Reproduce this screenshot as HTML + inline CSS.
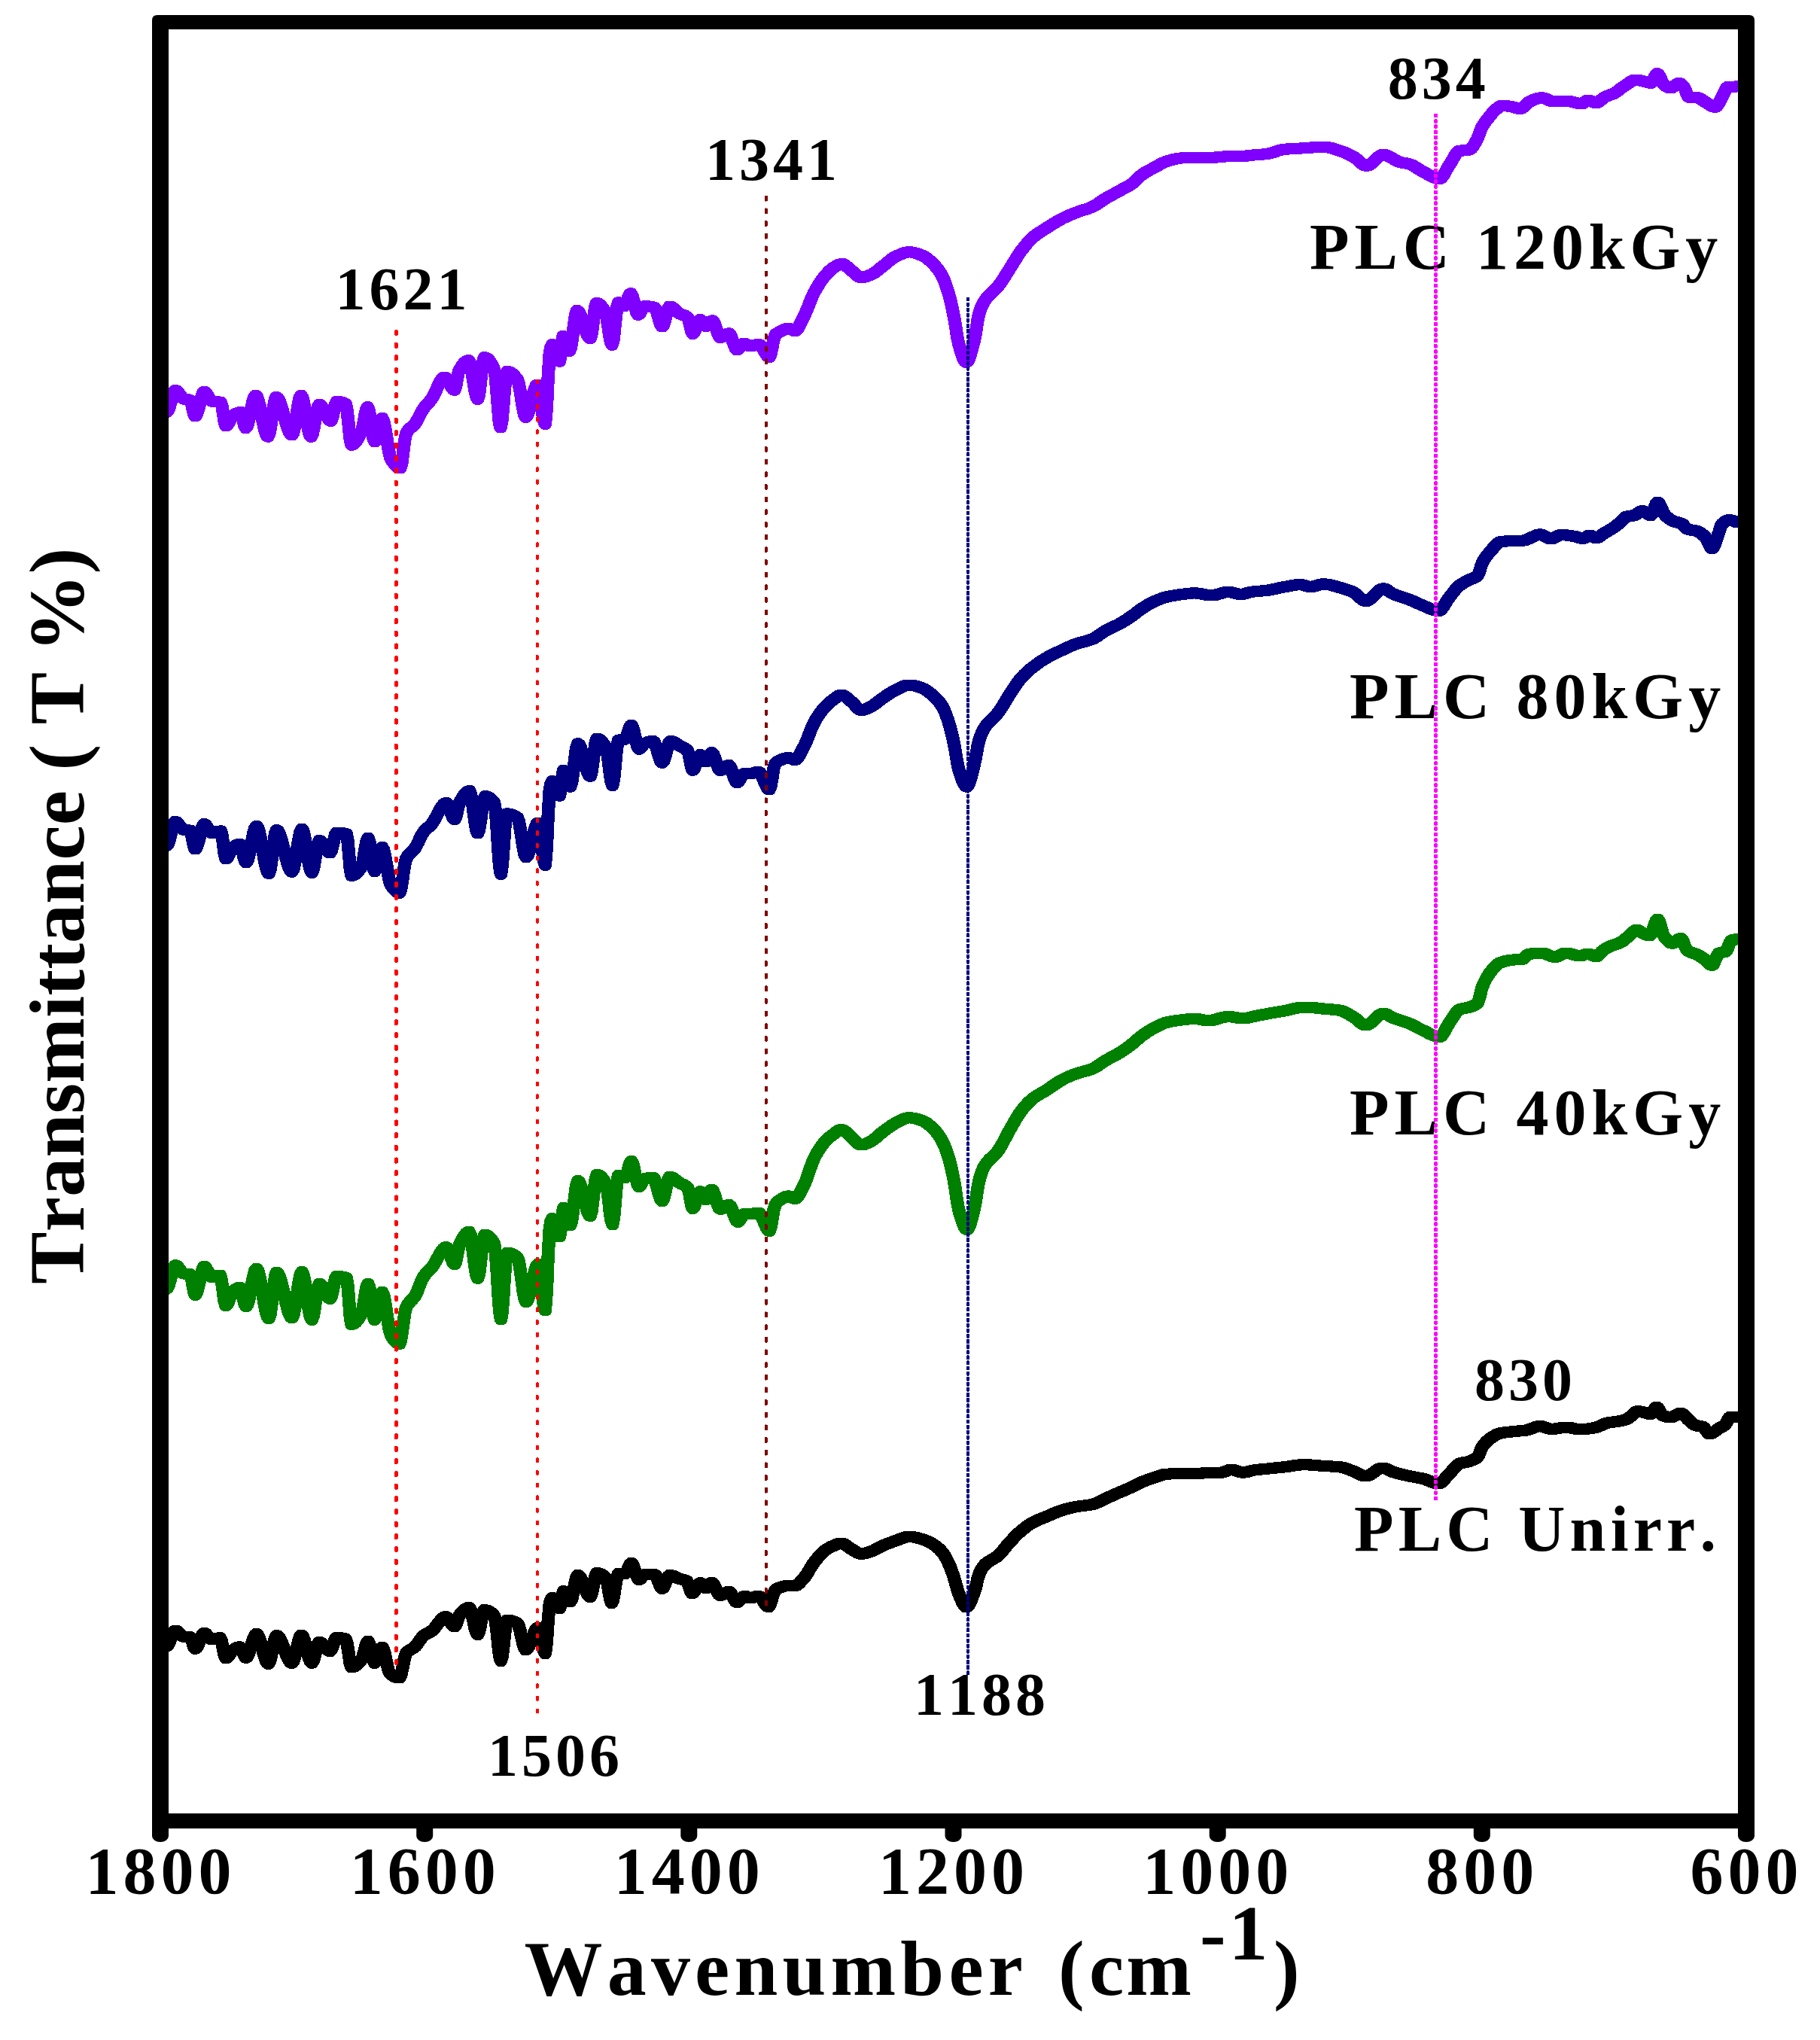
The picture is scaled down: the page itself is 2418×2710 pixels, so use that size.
<!DOCTYPE html>
<html lang="en"><head><meta charset="utf-8"><title>FTIR spectra</title>
<style>html,body{margin:0;padding:0;background:#fff}svg{display:block}</style></head>
<body>
<svg width="2418" height="2710" viewBox="0 0 2418 2710">
<rect x="0" y="0" width="2418" height="2710" fill="#ffffff"/>
<defs><clipPath id="plot"><rect x="224" y="39" width="2085" height="2370"/></clipPath></defs>
<g clip-path="url(#plot)" fill="none" stroke-linejoin="round" stroke-linecap="round" shape-rendering="crispEdges">
<path id="c0" transform="scale(0.8933,1)" d="M241.8,2188.0 L244.0,2187.5 L246.3,2187.0 L248.5,2186.3 L250.6,2184.2 L252.6,2180.3 L254.7,2175.6 L256.7,2171.0 L258.8,2167.5 L260.8,2166.1 L262.9,2166.7 L264.9,2168.1 L267.0,2170.0 L269.0,2172.0 L271.1,2173.5 L273.1,2174.2 L275.1,2174.3 L277.0,2174.4 L279.0,2174.4 L280.9,2174.5 L282.9,2174.6 L284.7,2177.1 L286.6,2182.4 L288.4,2187.7 L290.3,2190.1 L292.2,2189.0 L294.1,2186.0 L296.1,2182.0 L298.0,2177.5 L299.9,2173.5 L301.9,2170.5 L303.8,2169.4 L306.0,2170.3 L308.2,2172.4 L310.5,2175.0 L312.7,2177.1 L314.9,2178.0 L316.9,2177.8 L319.0,2177.4 L321.0,2176.9 L323.1,2176.4 L325.1,2176.0 L327.2,2175.8 L329.4,2180.0 L331.5,2189.2 L333.7,2198.4 L335.8,2202.6 L338.0,2201.7 L340.3,2199.4 L342.5,2196.5 L344.7,2193.7 L346.9,2191.8 L348.9,2190.7 L350.8,2189.6 L352.8,2188.7 L354.8,2188.1 L356.8,2187.9 L358.6,2189.4 L360.5,2192.9 L362.3,2197.2 L364.2,2200.7 L366.0,2202.2 L368.2,2200.4 L370.4,2195.9 L372.6,2189.7 L374.8,2183.0 L377.0,2176.8 L379.2,2172.3 L381.4,2170.5 L383.6,2172.2 L385.8,2176.7 L388.0,2183.1 L390.2,2190.4 L392.4,2197.7 L394.6,2204.1 L396.9,2208.6 L399.1,2210.3 L401.1,2207.5 L403.2,2200.6 L405.2,2191.5 L407.3,2182.4 L409.3,2175.5 L411.4,2172.7 L413.5,2173.6 L415.5,2175.9 L417.6,2179.4 L419.7,2183.7 L421.8,2188.5 L423.8,2193.4 L425.9,2198.2 L428.0,2202.5 L430.1,2206.0 L432.1,2208.3 L434.2,2209.2 L436.2,2207.1 L438.2,2201.8 L440.2,2194.6 L442.2,2186.7 L444.2,2179.5 L446.2,2174.2 L448.2,2172.1 L450.4,2174.2 L452.7,2179.5 L454.9,2186.7 L457.1,2194.6 L459.3,2201.8 L461.5,2207.1 L463.8,2209.2 L466.0,2206.3 L468.2,2199.4 L470.4,2191.3 L472.6,2184.4 L474.9,2181.5 L476.9,2182.0 L478.9,2183.4 L480.9,2185.3 L482.9,2187.4 L484.9,2189.6 L486.9,2191.5 L488.9,2192.9 L490.9,2193.4 L492.8,2191.5 L494.8,2187.1 L496.8,2181.7 L498.7,2177.3 L500.7,2175.4 L502.9,2175.5 L505.2,2175.6 L507.4,2175.9 L509.7,2176.3 L511.9,2176.8 L514.1,2177.5 L516.3,2183.7 L518.5,2196.4 L520.6,2209.0 L522.8,2214.7 L524.9,2214.4 L527.0,2213.7 L529.1,2212.5 L531.2,2211.0 L533.3,2209.2 L535.4,2207.1 L537.5,2204.9 L539.5,2201.0 L541.5,2194.7 L543.4,2188.0 L545.4,2182.6 L547.4,2180.4 L549.4,2183.4 L551.3,2190.5 L553.3,2199.1 L555.3,2206.2 L557.2,2209.2 L559.5,2207.0 L561.7,2201.8 L563.9,2195.7 L566.1,2190.5 L568.3,2188.3 L570.2,2190.7 L572.2,2196.7 L574.1,2204.6 L576.0,2212.7 L577.9,2219.4 L579.9,2223.0 L581.9,2224.5 L583.9,2225.8 L586.0,2226.9 L588.0,2227.8 L590.1,2228.4 L592.1,2228.9 L594.2,2229.0 L596.1,2225.9 L598.1,2218.5 L600.1,2209.4 L602.1,2201.0 L604.0,2196.2 L606.3,2194.0 L608.5,2192.5 L610.7,2191.3 L613.0,2190.2 L615.2,2189.0 L617.5,2187.4 L619.5,2185.4 L621.6,2182.8 L623.6,2180.1 L625.7,2177.4 L627.7,2175.0 L629.8,2173.1 L631.8,2171.8 L633.9,2170.6 L635.9,2169.7 L638.0,2168.7 L640.0,2167.7 L642.1,2166.5 L644.2,2164.9 L646.3,2162.8 L648.4,2160.4 L650.6,2157.9 L652.7,2155.4 L654.8,2153.0 L656.9,2150.9 L659.0,2149.2 L661.1,2148.1 L663.2,2147.7 L665.4,2148.7 L667.5,2151.1 L669.7,2154.3 L671.8,2157.5 L674.0,2159.9 L676.1,2160.9 L677.9,2158.9 L679.8,2154.3 L681.6,2149.1 L683.4,2145.6 L685.4,2143.4 L687.5,2141.3 L689.5,2139.4 L691.6,2137.9 L693.6,2136.7 L695.7,2135.9 L697.7,2135.6 L699.9,2138.3 L702.0,2144.9 L704.1,2153.5 L706.2,2162.1 L708.4,2168.7 L710.5,2171.4 L712.5,2168.0 L714.4,2159.9 L716.4,2150.2 L718.4,2142.1 L720.3,2138.7 L722.4,2138.9 L724.6,2139.4 L726.7,2140.2 L728.8,2141.4 L730.9,2142.8 L733.0,2144.6 L735.1,2146.7 L737.1,2154.2 L739.1,2169.2 L741.0,2186.4 L743.0,2200.5 L745.0,2206.4 L746.8,2200.8 L748.7,2187.4 L750.5,2171.3 L752.4,2157.9 L754.3,2152.3 L756.4,2152.4 L758.6,2152.7 L760.8,2153.1 L763.0,2153.8 L765.2,2154.6 L767.4,2155.5 L769.6,2156.6 L771.6,2160.0 L773.7,2166.7 L775.7,2175.0 L777.8,2183.1 L779.9,2189.3 L781.9,2191.7 L783.9,2190.7 L786.0,2188.0 L788.0,2184.1 L790.1,2179.4 L792.1,2174.5 L794.1,2169.8 L796.2,2165.9 L798.2,2163.2 L800.3,2162.2 L802.4,2165.8 L804.5,2174.3 L806.6,2184.4 L808.8,2192.9 L810.9,2196.5 L813.1,2181.2 L815.3,2151.4 L817.5,2131.0 L819.3,2125.2 L821.2,2122.6 L823.4,2124.1 L825.6,2127.6 L827.8,2131.7 L830.1,2135.2 L832.3,2136.7 L834.2,2130.8 L836.1,2119.7 L838.0,2113.8 L840.0,2115.2 L842.1,2118.6 L844.2,2122.7 L846.2,2126.1 L848.3,2127.5 L850.5,2123.9 L852.7,2115.2 L854.9,2104.8 L857.1,2096.1 L859.4,2092.5 L861.4,2093.5 L863.5,2096.1 L865.5,2100.0 L867.6,2104.5 L869.6,2109.3 L871.7,2113.8 L873.7,2117.7 L875.8,2120.3 L877.8,2121.3 L879.8,2118.0 L881.8,2110.2 L883.7,2100.8 L885.7,2093.0 L887.7,2089.7 L889.9,2089.9 L892.2,2090.5 L894.4,2091.4 L896.6,2092.7 L898.9,2094.3 L901.1,2096.2 L903.3,2102.5 L905.4,2113.8 L907.6,2124.7 L909.7,2129.5 L911.7,2125.5 L913.7,2115.8 L915.6,2104.4 L917.6,2094.7 L919.6,2090.7 L921.6,2090.7 L923.5,2090.7 L925.5,2090.7 L927.5,2090.7 L929.4,2090.7 L931.3,2089.2 L933.2,2085.7 L935.1,2081.5 L937.0,2078.0 L938.8,2076.5 L940.8,2078.1 L942.7,2082.2 L944.6,2087.4 L946.5,2092.6 L948.5,2096.7 L950.4,2098.3 L952.5,2097.3 L954.7,2095.1 L956.8,2092.8 L959.0,2091.8 L961.1,2091.8 L963.2,2091.8 L965.3,2091.8 L967.4,2091.8 L969.5,2091.8 L971.7,2091.8 L973.8,2091.8 L976.0,2093.7 L978.2,2098.3 L980.4,2103.8 L982.6,2108.4 L984.9,2110.3 L987.1,2108.4 L989.3,2104.0 L991.5,2098.8 L993.7,2094.4 L995.9,2092.5 L998.0,2092.7 L1000.2,2093.2 L1002.3,2093.9 L1004.4,2094.8 L1006.5,2095.7 L1008.6,2096.6 L1010.7,2097.3 L1012.9,2097.9 L1015.1,2098.3 L1017.3,2098.9 L1019.5,2099.5 L1021.7,2100.5 L1023.6,2103.6 L1025.5,2109.1 L1027.5,2114.4 L1029.4,2116.7 L1031.4,2115.7 L1033.4,2113.1 L1035.4,2109.8 L1037.4,2106.4 L1039.4,2103.8 L1041.4,2102.8 L1043.5,2103.9 L1045.7,2106.3 L1047.8,2108.7 L1050.0,2109.8 L1052.1,2108.6 L1054.2,2106.1 L1056.3,2103.6 L1058.4,2102.4 L1060.5,2103.7 L1062.7,2106.8 L1064.8,2110.9 L1067.0,2115.0 L1069.1,2118.1 L1071.3,2119.4 L1073.4,2119.0 L1075.5,2118.1 L1077.6,2116.9 L1079.8,2115.8 L1081.9,2114.9 L1084.0,2114.5 L1086.1,2115.5 L1088.1,2118.2 L1090.1,2121.6 L1092.2,2124.9 L1094.2,2127.6 L1096.2,2128.6 L1098.4,2127.7 L1100.7,2125.7 L1102.9,2123.3 L1105.1,2121.3 L1107.3,2120.4 L1109.5,2120.8 L1111.6,2121.7 L1113.8,2122.5 L1115.9,2122.9 L1118.0,2122.7 L1120.0,2122.3 L1122.1,2121.7 L1124.1,2121.0 L1126.2,2120.6 L1128.2,2120.4 L1130.4,2121.2 L1132.5,2123.2 L1134.6,2125.9 L1136.7,2129.0 L1138.8,2131.7 L1140.9,2133.7 L1143.0,2134.5 L1145.0,2132.5 L1147.0,2127.6 L1148.9,2121.5 L1150.9,2115.9 L1152.9,2112.6 L1154.7,2111.2 L1156.6,2110.1 L1158.4,2109.3 L1160.3,2108.7 L1162.3,2108.1 L1164.4,2107.6 L1166.4,2107.2 L1168.5,2106.8 L1170.5,2106.6 L1172.6,2106.5 L1174.5,2106.5 L1176.5,2106.5 L1178.5,2106.5 L1180.5,2106.5 L1182.4,2106.5 L1184.5,2106.1 L1186.5,2105.0 L1188.6,2103.4 L1190.6,2101.4 L1192.7,2099.3 L1194.7,2097.3 L1196.9,2095.0 L1199.0,2092.3 L1201.2,2089.3 L1203.3,2086.1 L1205.4,2082.9 L1207.6,2079.8 L1209.7,2076.8 L1211.9,2074.2 L1214.0,2071.8 L1216.1,2069.5 L1218.2,2067.3 L1220.3,2065.1 L1222.4,2063.2 L1224.5,2061.4 L1226.6,2059.9 L1228.7,2058.6 L1230.7,2057.4 L1232.8,2056.4 L1234.9,2055.4 L1236.9,2054.5 L1239.0,2053.7 L1241.0,2052.9 L1243.1,2052.1 L1245.1,2051.3 L1247.2,2050.7 L1249.2,2050.3 L1251.3,2050.1 L1253.4,2050.4 L1255.5,2051.2 L1257.6,2052.4 L1259.7,2053.7 L1261.8,2055.2 L1263.9,2056.5 L1266.0,2057.7 L1268.2,2058.8 L1270.3,2060.0 L1272.4,2061.2 L1274.5,2062.4 L1276.6,2063.3 L1278.7,2064.0 L1280.8,2064.2 L1282.9,2064.1 L1285.0,2063.8 L1287.2,2063.4 L1289.3,2062.9 L1291.4,2062.3 L1293.5,2061.6 L1295.6,2061.0 L1297.7,2060.3 L1299.9,2059.4 L1302.0,2058.4 L1304.2,2057.4 L1306.3,2056.3 L1308.4,2055.2 L1310.6,2054.2 L1312.7,2053.3 L1314.9,2052.5 L1317.1,2051.7 L1319.3,2050.9 L1321.5,2050.2 L1323.7,2049.4 L1325.9,2048.7 L1328.0,2048.0 L1330.2,2047.4 L1332.4,2046.7 L1334.6,2046.0 L1336.8,2045.2 L1339.0,2044.4 L1341.2,2043.6 L1343.4,2042.9 L1345.6,2042.3 L1347.7,2041.8 L1349.9,2041.4 L1352.1,2041.3 L1354.3,2041.4 L1356.5,2041.6 L1358.7,2041.9 L1360.9,2042.2 L1363.1,2042.7 L1365.3,2043.2 L1367.5,2043.8 L1369.6,2044.3 L1371.8,2044.9 L1374.0,2045.5 L1376.1,2046.2 L1378.3,2047.0 L1380.4,2047.9 L1382.6,2048.9 L1384.8,2049.9 L1386.9,2051.0 L1389.1,2052.2 L1391.1,2053.4 L1393.2,2054.8 L1395.2,2056.4 L1397.3,2058.1 L1399.3,2060.0 L1401.4,2062.1 L1403.4,2064.5 L1405.3,2067.2 L1407.3,2070.4 L1409.3,2073.8 L1411.2,2077.5 L1413.1,2081.3 L1414.9,2085.6 L1416.8,2090.2 L1418.6,2095.1 L1420.4,2100.5 L1422.3,2106.5 L1424.1,2112.3 L1425.9,2117.0 L1427.8,2121.1 L1429.7,2125.2 L1431.6,2129.0 L1433.5,2132.1 L1435.4,2134.2 L1437.3,2135.0 L1439.3,2134.1 L1441.2,2131.8 L1443.2,2128.4 L1445.1,2124.2 L1447.1,2119.6 L1449.1,2115.0 L1450.9,2109.6 L1452.7,2102.8 L1454.5,2096.1 L1456.3,2091.0 L1458.3,2087.2 L1460.3,2083.9 L1462.2,2081.1 L1464.2,2079.0 L1466.2,2077.2 L1468.3,2075.8 L1470.3,2074.5 L1472.3,2073.4 L1474.4,2072.3 L1476.4,2071.3 L1478.4,2070.3 L1480.5,2069.2 L1482.5,2068.0 L1484.6,2066.5 L1486.7,2064.7 L1488.8,2062.7 L1491.0,2060.4 L1493.1,2058.1 L1495.3,2055.7 L1497.4,2053.3 L1499.5,2051.0 L1501.7,2048.9 L1503.8,2046.8 L1506.0,2044.8 L1508.1,2042.7 L1510.3,2040.7 L1512.5,2038.8 L1514.6,2036.9 L1516.8,2035.2 L1518.9,2033.5 L1521.1,2031.9 L1523.2,2030.4 L1525.4,2028.9 L1527.5,2027.4 L1529.7,2026.1 L1531.8,2024.8 L1534.0,2023.6 L1536.2,2022.5 L1538.3,2021.5 L1540.5,2020.5 L1542.7,2019.6 L1544.9,2018.8 L1547.1,2018.0 L1549.3,2017.2 L1551.5,2016.4 L1553.7,2015.6 L1555.9,2014.8 L1558.1,2014.0 L1560.3,2013.1 L1562.6,2012.2 L1564.8,2011.4 L1567.1,2010.5 L1569.3,2009.7 L1571.5,2008.9 L1573.8,2008.1 L1576.0,2007.3 L1578.2,2006.6 L1580.5,2006.0 L1582.7,2005.4 L1584.9,2004.8 L1587.1,2004.3 L1589.2,2003.8 L1591.4,2003.3 L1593.6,2002.8 L1595.8,2002.4 L1598.0,2002.0 L1600.2,2001.6 L1602.4,2001.3 L1604.6,2001.0 L1606.9,2000.7 L1609.1,2000.4 L1611.3,2000.2 L1613.6,2000.0 L1615.8,1999.7 L1618.0,1999.5 L1620.2,1999.2 L1622.5,1998.8 L1624.7,1998.4 L1626.9,1997.9 L1629.1,1997.2 L1631.3,1996.4 L1633.5,1995.5 L1635.6,1994.5 L1637.8,1993.6 L1640.0,1992.6 L1642.2,1991.6 L1644.4,1990.7 L1646.6,1989.8 L1648.8,1988.9 L1651.1,1988.1 L1653.3,1987.2 L1655.5,1986.3 L1657.7,1985.4 L1659.9,1984.5 L1662.1,1983.6 L1664.4,1982.8 L1666.6,1981.9 L1668.7,1981.1 L1670.9,1980.3 L1673.0,1979.5 L1675.2,1978.7 L1677.3,1977.8 L1679.5,1977.0 L1681.7,1976.2 L1683.8,1975.3 L1685.9,1974.4 L1688.0,1973.4 L1690.1,1972.4 L1692.2,1971.4 L1694.4,1970.5 L1696.5,1969.5 L1698.6,1968.7 L1700.7,1967.9 L1702.9,1967.2 L1705.0,1966.5 L1707.1,1965.8 L1709.3,1965.1 L1711.4,1964.5 L1713.6,1963.8 L1715.7,1963.2 L1717.9,1962.5 L1720.1,1961.8 L1722.3,1961.1 L1724.5,1960.4 L1726.7,1959.7 L1728.8,1959.1 L1731.0,1958.6 L1733.2,1958.3 L1735.4,1958.1 L1737.6,1958.0 L1739.8,1958.0 L1742.1,1957.9 L1744.3,1957.9 L1746.5,1957.9 L1748.7,1957.8 L1750.9,1957.8 L1753.1,1957.8 L1755.4,1957.7 L1757.6,1957.7 L1759.8,1957.7 L1762.0,1957.6 L1764.1,1957.6 L1766.3,1957.5 L1768.5,1957.5 L1770.7,1957.4 L1772.9,1957.4 L1775.1,1957.4 L1777.3,1957.3 L1779.5,1957.2 L1781.8,1957.2 L1784.0,1957.1 L1786.2,1957.1 L1788.5,1957.0 L1790.7,1956.9 L1792.9,1956.9 L1795.2,1956.8 L1797.4,1956.7 L1799.7,1956.7 L1801.9,1956.6 L1804.0,1956.5 L1806.1,1956.5 L1808.2,1956.5 L1810.3,1956.4 L1812.5,1956.4 L1814.6,1956.3 L1816.7,1956.2 L1818.8,1955.9 L1820.9,1955.3 L1823.0,1954.6 L1825.1,1953.8 L1827.2,1953.0 L1829.2,1952.5 L1831.3,1952.3 L1833.5,1952.5 L1835.7,1952.9 L1837.8,1953.5 L1840.0,1954.2 L1842.1,1954.9 L1844.3,1955.5 L1846.4,1955.9 L1848.6,1956.1 L1850.7,1956.0 L1852.9,1955.7 L1855.0,1955.3 L1857.2,1954.8 L1859.4,1954.2 L1861.5,1953.7 L1863.7,1953.2 L1865.8,1952.9 L1868.0,1952.6 L1870.1,1952.4 L1872.2,1952.2 L1874.4,1952.0 L1876.5,1951.8 L1878.7,1951.6 L1880.8,1951.5 L1882.9,1951.3 L1885.1,1951.1 L1887.3,1950.9 L1889.5,1950.7 L1891.8,1950.5 L1894.0,1950.3 L1896.2,1950.1 L1898.4,1949.9 L1900.7,1949.7 L1902.9,1949.5 L1905.1,1949.3 L1907.4,1949.1 L1909.6,1948.9 L1911.7,1948.7 L1913.8,1948.4 L1915.9,1948.1 L1918.0,1947.8 L1920.1,1947.5 L1922.3,1947.2 L1924.4,1946.9 L1926.5,1946.7 L1928.6,1946.4 L1930.7,1946.2 L1932.8,1946.0 L1934.9,1945.8 L1937.0,1945.7 L1939.1,1945.7 L1941.3,1945.7 L1943.4,1945.8 L1945.5,1945.8 L1947.6,1945.9 L1949.7,1946.1 L1951.8,1946.2 L1953.9,1946.3 L1956.0,1946.5 L1958.1,1946.6 L1960.3,1946.8 L1962.4,1947.0 L1964.5,1947.1 L1966.6,1947.3 L1968.7,1947.4 L1970.9,1947.5 L1973.2,1947.6 L1975.4,1947.7 L1977.6,1947.9 L1979.9,1948.0 L1982.1,1948.1 L1984.4,1948.2 L1986.6,1948.3 L1988.8,1948.5 L1991.1,1948.7 L1993.3,1948.9 L1995.5,1949.2 L1997.7,1949.6 L1999.9,1950.2 L2002.0,1950.8 L2004.2,1951.5 L2006.4,1952.2 L2008.6,1953.0 L2010.7,1953.7 L2012.9,1954.4 L2015.0,1955.1 L2017.0,1956.0 L2019.1,1956.9 L2021.1,1957.9 L2023.2,1958.8 L2025.2,1959.6 L2027.3,1960.3 L2029.3,1960.7 L2031.4,1960.9 L2033.6,1960.6 L2035.9,1960.0 L2038.1,1958.9 L2040.3,1957.7 L2042.6,1956.2 L2044.8,1954.8 L2047.1,1953.3 L2049.3,1952.1 L2051.5,1951.0 L2053.8,1950.4 L2056.0,1950.1 L2058.0,1950.3 L2060.0,1950.7 L2062.0,1951.4 L2064.0,1952.3 L2066.0,1953.2 L2068.0,1954.0 L2070.0,1954.9 L2072.0,1955.5 L2074.3,1956.1 L2076.5,1956.7 L2078.7,1957.2 L2081.0,1957.7 L2083.2,1958.3 L2085.4,1958.7 L2087.7,1959.2 L2089.9,1959.7 L2092.2,1960.1 L2094.4,1960.6 L2096.6,1961.0 L2098.8,1961.4 L2101.0,1961.8 L2103.2,1962.1 L2105.3,1962.4 L2107.5,1962.8 L2109.7,1963.1 L2111.9,1963.5 L2114.1,1963.9 L2116.2,1964.3 L2118.4,1964.8 L2120.5,1965.5 L2122.6,1966.2 L2124.7,1967.0 L2126.9,1967.8 L2129.0,1968.5 L2131.1,1969.3 L2133.2,1969.9 L2135.4,1970.4 L2137.5,1970.7 L2139.6,1970.8 L2141.6,1970.4 L2143.6,1969.4 L2145.6,1967.9 L2147.6,1966.0 L2149.6,1963.8 L2151.6,1961.7 L2153.6,1959.6 L2155.6,1957.7 L2157.7,1955.7 L2159.9,1953.5 L2162.0,1951.3 L2164.1,1949.1 L2166.2,1947.2 L2168.3,1945.6 L2170.4,1944.5 L2172.5,1943.8 L2174.6,1943.3 L2176.7,1942.9 L2178.9,1942.6 L2181.0,1942.2 L2183.1,1941.8 L2185.2,1941.2 L2187.2,1940.6 L2189.3,1939.9 L2191.3,1939.2 L2193.4,1938.2 L2195.4,1937.1 L2197.5,1935.7 L2199.3,1933.1 L2201.2,1929.0 L2203.0,1924.7 L2204.9,1921.4 L2206.9,1919.0 L2209.0,1916.8 L2211.0,1914.9 L2213.1,1913.2 L2215.1,1911.7 L2217.2,1910.4 L2219.3,1909.2 L2221.4,1908.0 L2223.5,1906.8 L2225.6,1905.8 L2227.7,1905.0 L2229.8,1904.3 L2231.9,1903.8 L2234.1,1903.4 L2236.3,1903.1 L2238.4,1902.8 L2240.6,1902.6 L2242.8,1902.4 L2245.0,1902.2 L2247.2,1902.0 L2249.4,1901.8 L2251.6,1901.6 L2253.8,1901.4 L2255.8,1901.2 L2257.8,1901.1 L2259.7,1900.9 L2261.7,1900.8 L2263.7,1900.6 L2265.6,1900.4 L2267.6,1900.2 L2269.6,1900.0 L2271.7,1899.6 L2273.8,1899.1 L2275.9,1898.4 L2278.0,1897.7 L2280.1,1897.0 L2282.1,1896.2 L2284.2,1895.6 L2286.3,1895.1 L2288.4,1894.7 L2290.5,1894.6 L2292.7,1894.8 L2294.8,1895.2 L2296.9,1895.8 L2299.1,1896.5 L2301.2,1897.2 L2303.4,1897.8 L2305.5,1898.2 L2307.6,1898.4 L2309.9,1898.3 L2312.1,1898.2 L2314.3,1897.9 L2316.5,1897.6 L2318.7,1897.2 L2320.9,1896.9 L2323.2,1896.6 L2325.4,1896.3 L2327.6,1896.2 L2329.8,1896.1 L2332.0,1896.2 L2334.2,1896.4 L2336.4,1896.8 L2338.6,1897.2 L2340.8,1897.7 L2342.9,1898.1 L2345.1,1898.5 L2347.3,1898.7 L2349.5,1898.8 L2351.7,1898.8 L2353.9,1898.7 L2356.2,1898.6 L2358.4,1898.4 L2360.6,1898.2 L2362.8,1897.9 L2365.0,1897.6 L2367.2,1897.3 L2369.5,1897.0 L2371.7,1896.7 L2373.9,1896.3 L2376.1,1895.6 L2378.2,1894.8 L2380.4,1893.9 L2382.6,1893.0 L2384.8,1892.1 L2387.0,1891.3 L2389.2,1890.6 L2391.4,1890.1 L2393.5,1889.7 L2395.7,1889.5 L2397.8,1889.2 L2399.9,1889.0 L2402.1,1888.8 L2404.2,1888.5 L2406.4,1888.2 L2408.5,1887.9 L2410.6,1887.5 L2412.6,1887.1 L2414.7,1886.6 L2416.7,1886.0 L2418.8,1885.3 L2420.8,1884.6 L2422.9,1883.5 L2425.0,1881.8 L2427.2,1880.0 L2429.3,1878.1 L2431.4,1876.4 L2433.5,1875.2 L2435.6,1874.8 L2437.6,1874.9 L2439.7,1875.1 L2441.8,1875.5 L2443.8,1876.0 L2445.9,1876.4 L2447.9,1876.9 L2450.0,1877.5 L2452.0,1878.3 L2454.1,1878.6 L2456.0,1877.6 L2458.0,1875.3 L2460.0,1872.6 L2461.9,1870.3 L2463.9,1869.3 L2466.1,1870.9 L2468.2,1874.3 L2470.4,1878.0 L2472.5,1880.2 L2474.6,1880.9 L2476.6,1881.6 L2478.7,1882.1 L2480.7,1882.5 L2482.8,1882.7 L2484.9,1882.8 L2487.0,1882.5 L2489.1,1881.7 L2491.2,1880.7 L2493.3,1879.6 L2495.4,1878.6 L2497.5,1877.8 L2499.6,1877.5 L2501.7,1878.0 L2503.7,1879.3 L2505.8,1881.1 L2507.8,1883.1 L2509.9,1885.1 L2511.9,1886.8 L2513.9,1888.3 L2515.8,1889.8 L2517.8,1891.3 L2519.7,1892.5 L2521.7,1893.4 L2523.9,1894.0 L2526.1,1894.3 L2528.3,1894.6 L2530.5,1895.0 L2532.8,1895.6 L2534.7,1897.0 L2536.7,1899.3 L2538.7,1901.8 L2540.6,1903.9 L2542.6,1904.7 L2544.5,1904.4 L2546.5,1903.8 L2548.4,1902.7 L2550.4,1901.5 L2552.3,1900.2 L2554.2,1898.9 L2556.2,1897.8 L2558.1,1896.8 L2560.1,1895.9 L2562.1,1894.9 L2564.0,1893.7 L2566.0,1892.3 L2567.9,1889.9 L2569.7,1886.6 L2571.5,1883.7 L2573.4,1882.4 L2575.4,1882.4 L2577.5,1882.4 L2579.6,1882.4 L2581.6,1882.4 L2583.7,1882.4 L2585.7,1882.4 L2587.6,1882.4 L2589.6,1882.3 L2591.5,1882.3 L2593.4,1882.2 L2595.4,1882.1 L2597.3,1882.1 L2599.3,1882.0" stroke="#000000" stroke-width="15"/>
<use href="#c0" x="-2.0"/><use href="#c0" x="-1.0"/><use href="#c0" x="1.0"/><use href="#c0" x="2.0"/>
<path id="c1" transform="scale(0.8933,1)" d="M241.8,1714.0 L244.0,1713.3 L246.3,1712.6 L248.5,1711.5 L250.6,1708.4 L252.6,1702.5 L254.7,1695.3 L256.7,1688.3 L258.8,1683.0 L260.8,1680.9 L262.9,1681.7 L264.9,1683.5 L267.0,1686.1 L269.0,1688.6 L271.1,1690.7 L273.1,1691.8 L275.1,1692.1 L277.0,1692.2 L279.0,1692.4 L280.9,1692.6 L282.9,1692.9 L284.7,1697.4 L286.6,1706.8 L288.4,1716.0 L290.3,1720.2 L292.2,1718.1 L294.1,1712.7 L296.1,1705.3 L298.0,1697.3 L299.9,1689.9 L301.9,1684.5 L303.8,1682.4 L306.0,1683.9 L308.2,1687.4 L310.5,1691.5 L312.7,1695.0 L314.9,1696.5 L316.9,1696.3 L319.0,1695.9 L321.0,1695.3 L323.1,1694.7 L325.1,1694.3 L327.2,1694.1 L329.4,1700.4 L331.5,1714.3 L333.7,1728.2 L335.8,1734.5 L338.0,1732.7 L340.3,1728.3 L342.5,1722.8 L344.7,1717.8 L346.9,1714.8 L348.9,1713.5 L350.8,1712.3 L352.8,1711.4 L354.8,1710.7 L356.8,1710.5 L358.6,1713.1 L360.5,1719.3 L362.3,1726.8 L364.2,1733.0 L366.0,1735.6 L368.2,1732.8 L370.4,1725.6 L372.6,1715.8 L374.8,1705.1 L377.0,1695.3 L379.2,1688.1 L381.4,1685.3 L383.4,1687.6 L385.5,1693.6 L387.5,1702.4 L389.5,1712.9 L391.6,1723.8 L393.6,1734.3 L395.7,1743.1 L397.7,1749.1 L399.7,1751.4 L401.7,1746.9 L403.6,1735.6 L405.6,1720.8 L407.5,1706.1 L409.4,1694.8 L411.4,1690.3 L413.5,1691.7 L415.5,1695.6 L417.6,1701.3 L419.7,1708.4 L421.8,1716.3 L423.8,1724.6 L425.9,1732.5 L428.0,1739.6 L430.1,1745.3 L432.1,1749.2 L434.2,1750.6 L436.3,1747.2 L438.4,1738.5 L440.5,1726.6 L442.7,1713.7 L444.8,1701.8 L446.9,1693.1 L449.0,1689.7 L451.1,1693.2 L453.2,1702.3 L455.3,1714.7 L457.4,1728.2 L459.5,1740.6 L461.7,1749.7 L463.8,1753.2 L466.0,1748.2 L468.2,1736.4 L470.4,1722.3 L472.6,1710.5 L474.9,1705.5 L476.9,1706.4 L478.9,1708.6 L480.9,1711.8 L482.9,1715.4 L484.9,1719.0 L486.9,1722.2 L488.9,1724.4 L490.9,1725.3 L492.8,1722.2 L494.8,1714.8 L496.8,1706.1 L498.7,1698.7 L500.7,1695.6 L502.8,1695.6 L504.9,1695.7 L507.0,1695.9 L509.1,1696.2 L511.2,1696.6 L513.3,1697.1 L515.4,1697.7 L517.2,1707.7 L519.1,1728.8 L520.9,1749.9 L522.8,1759.4 L524.9,1759.0 L527.0,1758.0 L529.1,1756.4 L531.2,1754.3 L533.3,1751.8 L535.4,1748.8 L537.5,1745.6 L539.5,1739.4 L541.5,1729.2 L543.4,1718.1 L545.4,1709.2 L547.4,1705.5 L549.4,1710.5 L551.3,1722.3 L553.3,1736.4 L555.3,1748.2 L557.2,1753.2 L559.5,1749.4 L561.7,1740.3 L563.9,1729.4 L566.1,1720.3 L568.3,1716.5 L570.5,1720.3 L572.7,1730.0 L574.9,1742.8 L577.1,1756.2 L579.3,1767.5 L581.5,1774.0 L583.6,1777.0 L585.7,1779.6 L587.9,1781.8 L590.0,1783.6 L592.1,1784.7 L594.2,1785.1 L596.1,1780.7 L598.1,1769.9 L600.1,1756.5 L602.1,1744.2 L604.0,1736.8 L606.3,1733.1 L608.5,1730.5 L610.7,1728.4 L613.0,1726.4 L615.2,1724.2 L617.5,1721.4 L619.5,1717.8 L621.6,1713.4 L623.6,1708.6 L625.7,1703.8 L627.7,1699.5 L629.8,1696.2 L631.8,1693.7 L633.9,1691.6 L635.9,1689.8 L638.0,1688.0 L640.0,1686.2 L642.1,1684.1 L644.3,1681.4 L646.4,1678.2 L648.6,1674.7 L650.8,1671.1 L652.9,1667.5 L655.1,1664.1 L657.3,1661.2 L659.5,1658.9 L661.6,1657.4 L663.8,1656.8 L665.9,1658.5 L667.9,1662.7 L670.0,1668.2 L672.0,1673.6 L674.1,1677.8 L676.1,1679.5 L677.9,1676.1 L679.8,1668.4 L681.6,1659.8 L683.4,1653.8 L685.4,1650.0 L687.5,1646.4 L689.5,1643.1 L691.6,1640.4 L693.6,1638.3 L695.7,1636.9 L697.7,1636.4 L699.9,1641.0 L702.0,1652.4 L704.1,1667.2 L706.2,1682.1 L708.4,1693.5 L710.5,1698.1 L712.6,1692.1 L714.6,1677.8 L716.7,1660.6 L718.8,1646.3 L720.9,1640.3 L722.9,1640.6 L725.0,1641.4 L727.0,1642.7 L729.0,1644.5 L731.1,1646.7 L733.1,1649.5 L735.1,1652.7 L737.1,1665.2 L739.1,1690.3 L741.0,1719.0 L743.0,1742.7 L745.0,1752.6 L746.8,1743.4 L748.7,1721.5 L750.5,1695.4 L752.4,1673.5 L754.3,1664.3 L756.4,1664.4 L758.6,1664.9 L760.8,1665.6 L763.0,1666.5 L765.2,1667.7 L767.4,1669.2 L769.6,1670.8 L771.7,1676.3 L773.8,1687.6 L776.0,1701.5 L778.1,1715.1 L780.2,1725.5 L782.4,1729.6 L784.6,1727.4 L786.8,1721.7 L789.1,1713.7 L791.3,1704.4 L793.5,1695.1 L795.8,1687.1 L798.0,1681.4 L800.3,1679.2 L802.4,1685.6 L804.5,1700.8 L806.6,1719.0 L808.8,1734.2 L810.9,1740.6 L813.1,1715.2 L815.3,1665.6 L817.5,1632.0 L819.3,1622.8 L821.2,1618.8 L823.4,1621.3 L825.6,1627.2 L827.8,1634.4 L830.1,1640.3 L832.3,1642.8 L834.2,1632.9 L836.1,1614.4 L838.0,1604.5 L840.0,1606.9 L842.1,1612.6 L844.2,1619.3 L846.2,1625.0 L848.3,1627.4 L850.5,1621.3 L852.7,1606.7 L854.9,1589.4 L857.1,1574.8 L859.4,1568.7 L861.4,1570.3 L863.5,1574.6 L865.5,1580.8 L867.6,1588.1 L869.6,1595.9 L871.7,1603.2 L873.7,1609.4 L875.8,1613.7 L877.8,1615.3 L879.8,1609.6 L881.8,1596.0 L883.7,1579.8 L885.7,1566.2 L887.7,1560.5 L889.9,1560.9 L892.2,1562.0 L894.4,1563.8 L896.6,1566.2 L898.9,1569.1 L901.1,1572.5 L903.1,1580.1 L905.1,1593.8 L907.0,1609.1 L909.0,1621.6 L911.0,1626.7 L913.1,1616.5 L915.3,1594.2 L917.4,1571.8 L919.6,1561.6 L921.6,1561.9 L923.5,1562.7 L925.5,1563.6 L927.5,1564.4 L929.4,1564.7 L931.3,1562.4 L933.2,1556.9 L935.1,1550.3 L937.0,1544.8 L938.8,1542.5 L940.8,1545.0 L942.7,1551.3 L944.6,1559.5 L946.5,1567.6 L948.5,1573.9 L950.4,1576.4 L952.5,1574.9 L954.7,1571.4 L956.8,1567.8 L959.0,1565.9 L961.0,1565.4 L963.1,1565.0 L965.1,1564.7 L967.2,1564.5 L969.3,1564.3 L971.3,1564.3 L973.2,1566.0 L975.2,1570.5 L977.1,1576.6 L979.0,1583.2 L981.0,1589.3 L982.9,1593.8 L984.9,1595.5 L987.1,1592.2 L989.3,1584.2 L991.5,1574.7 L993.7,1566.7 L995.9,1563.4 L998.0,1563.7 L1000.2,1564.5 L1002.3,1565.7 L1004.4,1567.1 L1006.5,1568.6 L1008.6,1570.1 L1010.7,1571.4 L1012.7,1572.4 L1014.8,1573.2 L1016.8,1574.0 L1018.8,1575.0 L1020.9,1576.2 L1022.9,1578.0 L1024.8,1583.3 L1026.6,1592.6 L1028.5,1601.5 L1030.3,1605.4 L1032.5,1603.0 L1034.7,1597.4 L1036.9,1590.8 L1039.2,1585.2 L1041.4,1582.8 L1043.5,1584.5 L1045.7,1588.2 L1047.8,1591.9 L1050.0,1593.6 L1052.1,1591.5 L1054.2,1586.9 L1056.3,1582.4 L1058.4,1580.3 L1060.5,1582.2 L1062.7,1587.0 L1064.8,1593.2 L1067.0,1599.5 L1069.1,1604.3 L1071.3,1606.2 L1073.4,1605.8 L1075.5,1604.7 L1077.6,1603.4 L1079.8,1602.1 L1081.9,1601.0 L1084.0,1600.6 L1086.3,1602.3 L1088.5,1606.4 L1090.7,1611.8 L1093.0,1617.3 L1095.2,1621.4 L1097.5,1623.1 L1099.4,1622.0 L1101.4,1619.4 L1103.4,1616.3 L1105.3,1613.7 L1107.3,1612.6 L1109.5,1612.6 L1111.6,1612.6 L1113.8,1612.6 L1115.9,1612.6 L1118.0,1612.5 L1120.0,1612.2 L1122.1,1611.9 L1124.1,1611.6 L1126.2,1611.3 L1128.2,1611.2 L1130.2,1612.2 L1132.2,1615.0 L1134.2,1618.8 L1136.3,1623.2 L1138.3,1627.6 L1140.3,1631.5 L1142.3,1634.2 L1144.3,1635.2 L1146.4,1630.4 L1148.6,1619.4 L1150.7,1607.6 L1152.9,1600.5 L1154.7,1598.2 L1156.6,1596.5 L1158.4,1595.1 L1160.3,1594.0 L1162.3,1592.8 L1164.4,1591.7 L1166.4,1590.6 L1168.5,1589.8 L1170.5,1589.2 L1172.6,1589.0 L1174.5,1589.3 L1176.5,1590.2 L1178.5,1591.1 L1180.5,1592.0 L1182.4,1592.3 L1184.5,1591.6 L1186.5,1589.7 L1188.6,1586.9 L1190.6,1583.5 L1192.7,1579.9 L1194.7,1576.4 L1196.9,1572.4 L1199.0,1567.6 L1201.2,1562.3 L1203.3,1556.7 L1205.4,1551.1 L1207.6,1545.7 L1209.7,1540.9 L1211.9,1536.8 L1214.0,1533.3 L1216.1,1530.1 L1218.2,1527.1 L1220.3,1524.2 L1222.4,1521.6 L1224.5,1519.2 L1226.6,1517.0 L1228.7,1515.0 L1230.7,1513.2 L1232.8,1511.5 L1234.9,1509.9 L1236.9,1508.5 L1239.0,1507.1 L1241.0,1505.7 L1243.1,1504.3 L1245.1,1502.9 L1247.2,1501.7 L1249.2,1500.9 L1251.3,1500.6 L1253.4,1501.0 L1255.5,1502.0 L1257.6,1503.4 L1259.7,1505.1 L1261.8,1507.0 L1263.9,1508.8 L1266.0,1510.4 L1268.2,1512.0 L1270.3,1514.0 L1272.4,1516.0 L1274.5,1517.8 L1276.6,1519.4 L1278.7,1520.5 L1280.8,1520.9 L1282.9,1520.7 L1285.0,1520.3 L1287.2,1519.6 L1289.3,1518.8 L1291.4,1517.9 L1293.5,1516.9 L1295.6,1515.9 L1297.7,1514.8 L1299.9,1513.4 L1302.0,1511.9 L1304.2,1510.3 L1306.3,1508.6 L1308.4,1506.9 L1310.6,1505.3 L1312.7,1503.8 L1314.9,1502.4 L1317.1,1500.9 L1319.3,1499.4 L1321.5,1498.0 L1323.7,1496.6 L1325.9,1495.3 L1328.0,1494.0 L1330.2,1492.8 L1332.4,1491.8 L1334.6,1490.8 L1336.8,1489.7 L1339.0,1488.7 L1341.2,1487.7 L1343.4,1486.7 L1345.6,1486.0 L1347.7,1485.3 L1349.9,1484.9 L1352.1,1484.8 L1354.3,1484.9 L1356.5,1485.1 L1358.7,1485.4 L1360.9,1485.8 L1363.1,1486.3 L1365.3,1486.9 L1367.5,1487.5 L1369.6,1488.2 L1371.8,1488.9 L1374.0,1489.7 L1376.1,1490.8 L1378.3,1492.0 L1380.4,1493.5 L1382.6,1495.1 L1384.8,1496.8 L1386.9,1498.6 L1389.1,1500.5 L1391.1,1502.4 L1393.2,1504.6 L1395.2,1507.0 L1397.3,1509.7 L1399.3,1512.7 L1401.4,1515.9 L1403.4,1519.5 L1405.3,1523.6 L1407.3,1528.2 L1409.3,1533.4 L1411.2,1539.0 L1413.1,1545.0 L1414.9,1551.9 L1416.8,1559.5 L1418.6,1567.6 L1420.4,1577.3 L1422.3,1588.6 L1424.1,1599.2 L1425.9,1607.1 L1427.9,1613.6 L1430.0,1619.7 L1432.1,1625.2 L1434.1,1629.5 L1436.2,1632.4 L1438.2,1633.4 L1440.4,1631.7 L1442.6,1627.1 L1444.7,1620.5 L1446.9,1612.9 L1449.1,1605.0 L1450.9,1596.7 L1452.7,1586.3 L1454.5,1576.0 L1456.3,1568.0 L1458.3,1562.0 L1460.3,1556.7 L1462.2,1552.4 L1464.2,1549.0 L1466.2,1546.2 L1468.3,1543.7 L1470.3,1541.7 L1472.3,1539.8 L1474.4,1538.1 L1476.4,1536.5 L1478.4,1534.8 L1480.5,1533.0 L1482.5,1530.9 L1484.6,1528.6 L1486.7,1525.7 L1488.8,1522.5 L1491.0,1519.1 L1493.1,1515.5 L1495.3,1511.8 L1497.4,1508.1 L1499.5,1504.5 L1501.7,1501.1 L1503.8,1497.8 L1506.0,1494.4 L1508.1,1491.0 L1510.3,1487.6 L1512.5,1484.4 L1514.6,1481.3 L1516.8,1478.4 L1518.9,1475.8 L1521.1,1473.3 L1523.2,1471.0 L1525.4,1468.7 L1527.5,1466.6 L1529.7,1464.5 L1531.8,1462.7 L1534.0,1460.9 L1536.2,1459.3 L1538.3,1457.8 L1540.5,1456.5 L1542.7,1455.2 L1544.9,1454.1 L1547.1,1453.0 L1549.3,1451.8 L1551.5,1450.7 L1553.7,1449.6 L1555.9,1448.4 L1558.1,1447.1 L1560.3,1445.8 L1562.6,1444.4 L1564.8,1443.0 L1567.1,1441.6 L1569.3,1440.3 L1571.5,1438.9 L1573.8,1437.6 L1576.0,1436.4 L1578.2,1435.2 L1580.5,1434.1 L1582.7,1433.1 L1584.9,1432.1 L1587.1,1431.2 L1589.2,1430.3 L1591.4,1429.5 L1593.6,1428.7 L1595.8,1427.9 L1598.0,1427.1 L1600.2,1426.4 L1602.4,1425.7 L1604.6,1425.1 L1606.9,1424.5 L1609.1,1424.0 L1611.3,1423.5 L1613.6,1423.0 L1615.8,1422.4 L1618.0,1421.9 L1620.2,1421.3 L1622.5,1420.6 L1624.7,1419.8 L1626.9,1418.9 L1629.1,1417.8 L1631.3,1416.6 L1633.5,1415.4 L1635.6,1414.0 L1637.8,1412.7 L1640.0,1411.3 L1642.2,1410.0 L1644.4,1408.8 L1646.6,1407.7 L1648.8,1406.6 L1651.1,1405.5 L1653.3,1404.4 L1655.5,1403.4 L1657.7,1402.3 L1659.9,1401.3 L1662.1,1400.2 L1664.4,1399.0 L1666.6,1397.8 L1668.7,1396.6 L1670.9,1395.3 L1673.0,1393.9 L1675.2,1392.6 L1677.3,1391.2 L1679.5,1389.7 L1681.7,1388.3 L1683.8,1386.8 L1685.9,1385.3 L1688.0,1383.7 L1690.1,1382.1 L1692.2,1380.4 L1694.4,1378.8 L1696.5,1377.2 L1698.6,1375.8 L1700.7,1374.4 L1702.9,1373.1 L1705.0,1371.7 L1707.1,1370.5 L1709.3,1369.2 L1711.4,1368.1 L1713.6,1366.9 L1715.7,1365.9 L1717.9,1364.9 L1720.1,1363.9 L1722.3,1362.9 L1724.5,1361.9 L1726.7,1361.0 L1728.8,1360.1 L1731.0,1359.4 L1733.2,1358.7 L1735.4,1358.2 L1737.6,1357.7 L1739.8,1357.3 L1742.1,1356.9 L1744.3,1356.6 L1746.5,1356.2 L1748.7,1355.9 L1750.9,1355.6 L1753.1,1355.4 L1755.4,1355.1 L1757.6,1354.9 L1759.8,1354.7 L1762.0,1354.4 L1764.1,1354.2 L1766.3,1354.0 L1768.5,1353.7 L1770.7,1353.6 L1772.9,1353.4 L1775.1,1353.3 L1777.3,1353.3 L1779.5,1353.4 L1781.7,1353.6 L1783.8,1354.0 L1786.0,1354.4 L1788.2,1354.8 L1790.4,1355.2 L1792.6,1355.6 L1794.8,1355.8 L1797.0,1355.9 L1799.1,1355.8 L1801.2,1355.6 L1803.3,1355.3 L1805.4,1354.8 L1807.5,1354.4 L1809.6,1353.8 L1811.7,1353.2 L1813.8,1352.7 L1815.9,1352.1 L1818.0,1351.7 L1820.1,1351.2 L1822.2,1350.9 L1824.3,1350.7 L1826.4,1350.6 L1828.7,1350.7 L1830.9,1350.8 L1833.1,1351.0 L1835.4,1351.3 L1837.6,1351.6 L1839.9,1352.0 L1842.1,1352.3 L1844.3,1352.6 L1846.6,1352.8 L1848.8,1352.9 L1851.0,1353.0 L1852.9,1352.9 L1854.8,1352.5 L1856.7,1352.0 L1858.6,1351.5 L1860.4,1351.1 L1862.7,1350.7 L1864.9,1350.3 L1867.2,1349.8 L1869.4,1349.4 L1871.6,1349.0 L1873.9,1348.6 L1876.1,1348.2 L1878.4,1347.8 L1880.6,1347.4 L1882.8,1347.1 L1885.1,1346.7 L1887.3,1346.3 L1889.5,1346.0 L1891.8,1345.7 L1894.0,1345.3 L1896.2,1345.0 L1898.4,1344.7 L1900.7,1344.3 L1902.9,1344.0 L1905.1,1343.7 L1907.4,1343.3 L1909.6,1343.0 L1911.7,1342.6 L1913.8,1342.2 L1915.9,1341.8 L1918.0,1341.3 L1920.1,1340.8 L1922.3,1340.4 L1924.4,1339.9 L1926.5,1339.5 L1928.6,1339.1 L1930.7,1338.7 L1932.8,1338.4 L1934.9,1338.2 L1937.0,1338.1 L1939.1,1338.0 L1941.3,1338.0 L1943.4,1338.1 L1945.5,1338.2 L1947.6,1338.3 L1949.7,1338.4 L1951.8,1338.6 L1953.9,1338.8 L1956.0,1338.9 L1958.1,1339.1 L1960.3,1339.3 L1962.4,1339.5 L1964.5,1339.7 L1966.6,1339.9 L1968.7,1340.1 L1970.9,1340.3 L1973.2,1340.4 L1975.4,1340.6 L1977.6,1340.7 L1979.9,1340.9 L1982.1,1341.1 L1984.4,1341.2 L1986.6,1341.5 L1988.8,1341.7 L1991.1,1342.0 L1993.3,1342.3 L1995.5,1342.8 L1997.7,1343.4 L1999.9,1344.3 L2002.0,1345.3 L2004.2,1346.4 L2006.4,1347.6 L2008.6,1348.8 L2010.7,1350.0 L2012.9,1351.1 L2015.0,1352.3 L2017.0,1353.7 L2019.1,1355.3 L2021.1,1356.9 L2023.2,1358.5 L2025.2,1359.9 L2027.3,1361.0 L2029.3,1361.7 L2031.4,1362.0 L2033.5,1361.7 L2035.7,1360.8 L2037.8,1359.6 L2040.0,1358.0 L2042.2,1356.1 L2044.3,1354.2 L2046.5,1352.3 L2048.6,1350.4 L2050.8,1348.8 L2052.9,1347.6 L2055.1,1346.7 L2057.2,1346.4 L2059.3,1346.6 L2061.5,1347.2 L2063.6,1348.1 L2065.7,1349.2 L2067.8,1350.3 L2069.9,1351.3 L2072.0,1352.2 L2074.3,1353.0 L2076.5,1353.7 L2078.7,1354.4 L2081.0,1355.0 L2083.2,1355.7 L2085.4,1356.3 L2087.7,1357.0 L2089.9,1357.6 L2092.2,1358.4 L2094.4,1359.1 L2096.6,1359.9 L2098.8,1360.8 L2101.0,1361.7 L2103.2,1362.7 L2105.3,1363.7 L2107.5,1364.8 L2109.7,1365.8 L2111.9,1366.8 L2114.1,1367.8 L2116.2,1368.7 L2118.5,1369.6 L2120.7,1370.6 L2122.9,1371.7 L2125.2,1372.8 L2127.4,1373.8 L2129.7,1374.7 L2131.9,1375.6 L2134.1,1376.3 L2136.4,1376.9 L2138.6,1377.3 L2140.9,1377.4 L2143.0,1376.7 L2145.1,1374.8 L2147.2,1372.0 L2149.3,1368.7 L2151.4,1365.1 L2153.5,1361.7 L2155.6,1358.8 L2157.7,1356.0 L2159.9,1353.0 L2162.0,1349.9 L2164.1,1347.0 L2166.2,1344.4 L2168.3,1342.4 L2170.4,1341.2 L2172.5,1340.5 L2174.6,1340.0 L2176.7,1339.6 L2178.9,1339.2 L2181.0,1338.9 L2183.1,1338.5 L2185.2,1337.9 L2187.2,1337.3 L2189.3,1336.7 L2191.3,1336.0 L2193.4,1335.1 L2195.4,1333.9 L2197.5,1332.4 L2199.3,1328.8 L2201.2,1322.6 L2203.0,1315.8 L2204.9,1310.4 L2206.9,1306.2 L2209.0,1302.4 L2211.0,1299.0 L2213.1,1295.9 L2215.1,1293.1 L2217.2,1290.7 L2219.3,1288.4 L2221.4,1286.2 L2223.5,1284.2 L2225.6,1282.3 L2227.7,1280.7 L2229.8,1279.5 L2231.9,1278.6 L2234.0,1278.0 L2236.1,1277.4 L2238.3,1276.9 L2240.4,1276.4 L2242.6,1276.0 L2244.7,1275.7 L2246.8,1275.4 L2249.0,1275.2 L2251.1,1275.0 L2253.2,1274.9 L2255.2,1274.8 L2257.3,1274.8 L2259.3,1274.7 L2261.4,1274.6 L2263.4,1274.5 L2265.6,1273.7 L2267.7,1272.1 L2269.9,1270.1 L2272.0,1268.4 L2274.2,1267.5 L2276.3,1267.2 L2278.4,1266.9 L2280.4,1266.7 L2282.5,1266.5 L2284.6,1266.3 L2286.7,1266.2 L2288.8,1266.1 L2290.9,1266.0 L2293.0,1266.0 L2295.2,1266.2 L2297.3,1266.7 L2299.5,1267.4 L2301.7,1268.2 L2303.9,1269.1 L2306.0,1269.9 L2308.2,1270.6 L2310.4,1271.1 L2312.6,1271.3 L2314.6,1271.1 L2316.6,1270.5 L2318.6,1269.6 L2320.6,1268.7 L2322.6,1267.7 L2324.6,1266.8 L2326.6,1266.2 L2328.6,1266.0 L2330.7,1266.1 L2332.8,1266.4 L2334.9,1266.8 L2337.0,1267.3 L2339.0,1267.9 L2341.1,1268.5 L2343.2,1269.0 L2345.3,1269.4 L2347.4,1269.7 L2349.5,1269.8 L2351.6,1269.6 L2353.6,1269.1 L2355.7,1268.4 L2357.7,1267.8 L2359.8,1267.3 L2361.8,1267.1 L2363.9,1267.4 L2365.9,1268.0 L2368.0,1268.9 L2370.0,1269.8 L2372.1,1270.4 L2374.1,1270.7 L2376.1,1270.1 L2378.1,1268.4 L2380.1,1266.3 L2382.0,1264.2 L2384.0,1262.6 L2386.0,1261.4 L2388.1,1260.2 L2390.1,1259.2 L2392.2,1258.2 L2394.3,1257.3 L2396.3,1256.5 L2398.4,1255.7 L2400.5,1255.1 L2402.6,1254.5 L2404.7,1253.9 L2406.8,1253.2 L2408.9,1252.5 L2411.0,1251.6 L2413.0,1250.5 L2415.1,1249.1 L2417.1,1247.6 L2419.2,1246.0 L2421.2,1244.4 L2423.3,1242.9 L2425.5,1241.1 L2427.7,1239.1 L2429.9,1237.2 L2432.1,1235.8 L2434.4,1235.3 L2436.6,1235.7 L2438.8,1236.9 L2441.0,1238.3 L2443.2,1239.7 L2445.4,1240.7 L2447.6,1241.4 L2449.8,1242.1 L2451.9,1242.6 L2454.1,1242.8 L2456.3,1240.5 L2458.5,1235.1 L2460.7,1228.7 L2462.9,1223.3 L2465.1,1221.0 L2467.1,1223.0 L2469.1,1228.0 L2471.1,1234.3 L2473.0,1240.2 L2475.0,1244.0 L2477.1,1246.3 L2479.1,1248.4 L2481.2,1250.3 L2483.2,1251.8 L2485.3,1252.8 L2487.3,1253.1 L2489.4,1252.6 L2491.4,1251.4 L2493.5,1249.9 L2495.5,1248.4 L2497.6,1247.2 L2499.6,1246.7 L2501.6,1248.2 L2503.6,1251.7 L2505.5,1256.1 L2507.5,1260.1 L2509.5,1262.6 L2511.6,1263.8 L2513.7,1264.7 L2515.8,1265.4 L2517.9,1266.0 L2520.0,1266.6 L2522.0,1267.3 L2524.1,1268.1 L2526.1,1269.0 L2528.1,1270.1 L2530.1,1271.2 L2532.0,1272.4 L2534.0,1273.6 L2536.0,1275.1 L2538.1,1277.0 L2540.1,1278.9 L2542.2,1280.6 L2544.3,1281.8 L2546.3,1282.3 L2548.3,1280.8 L2550.2,1277.1 L2552.2,1272.6 L2554.2,1268.6 L2556.2,1266.4 L2558.4,1265.7 L2560.6,1265.2 L2562.8,1264.9 L2565.0,1264.5 L2567.2,1263.7 L2569.1,1261.1 L2570.9,1256.5 L2572.8,1252.0 L2574.6,1249.5 L2576.8,1248.8 L2579.1,1248.3 L2581.3,1247.9 L2583.5,1247.6 L2585.7,1247.3 L2587.6,1247.1 L2589.6,1246.9 L2591.5,1246.7 L2593.4,1246.5 L2595.4,1246.3 L2597.3,1246.2 L2599.3,1246.0" stroke="#008000" stroke-width="15"/>
<use href="#c1" x="-2.0"/><use href="#c1" x="-1.0"/><use href="#c1" x="1.0"/><use href="#c1" x="2.0"/>
<path id="c2" transform="scale(0.8933,1)" d="M241.8,1125.0 L244.0,1124.4 L246.3,1123.9 L248.5,1123.0 L250.6,1120.0 L252.6,1113.9 L254.7,1106.5 L256.7,1099.2 L258.8,1093.7 L260.8,1091.5 L262.9,1092.2 L264.9,1094.1 L267.0,1096.6 L269.0,1099.1 L271.1,1101.1 L273.1,1102.2 L275.1,1102.5 L277.0,1102.6 L279.0,1102.8 L280.9,1103.0 L282.9,1103.3 L284.7,1107.4 L286.6,1115.9 L288.4,1124.2 L290.3,1128.0 L292.2,1126.1 L294.1,1121.4 L296.1,1114.9 L298.0,1107.7 L299.9,1101.2 L301.9,1096.5 L303.8,1094.6 L306.0,1095.8 L308.2,1098.8 L310.5,1102.3 L312.7,1105.3 L314.9,1106.5 L316.8,1106.4 L318.8,1106.0 L320.7,1105.5 L322.6,1105.0 L324.6,1104.5 L326.5,1104.1 L328.4,1104.0 L330.3,1109.8 L332.1,1122.5 L334.0,1135.2 L335.8,1141.0 L338.0,1139.6 L340.3,1136.1 L342.5,1131.8 L344.7,1127.8 L346.9,1125.3 L348.9,1124.2 L350.8,1123.2 L352.8,1122.3 L354.8,1121.8 L356.8,1121.6 L358.6,1124.1 L360.5,1130.2 L362.3,1137.4 L364.2,1143.5 L366.0,1146.0 L368.2,1143.3 L370.4,1136.4 L372.6,1126.9 L374.8,1116.6 L377.0,1107.1 L379.2,1100.2 L381.4,1097.5 L383.4,1099.7 L385.5,1105.4 L387.5,1113.8 L389.5,1123.7 L391.6,1134.1 L393.6,1144.0 L395.7,1152.4 L397.7,1158.1 L399.7,1160.3 L401.7,1156.0 L403.6,1145.4 L405.6,1131.5 L407.5,1117.6 L409.4,1107.0 L411.4,1102.7 L413.5,1104.0 L415.5,1107.5 L417.6,1112.8 L419.7,1119.3 L421.8,1126.6 L423.8,1134.2 L425.9,1141.5 L428.0,1148.0 L430.1,1153.3 L432.1,1156.8 L434.2,1158.1 L436.3,1154.9 L438.4,1146.8 L440.5,1135.7 L442.7,1123.6 L444.8,1112.5 L446.9,1104.4 L449.0,1101.2 L451.1,1104.4 L453.2,1112.7 L455.3,1124.0 L457.4,1136.4 L459.5,1147.7 L461.7,1156.0 L463.8,1159.2 L466.0,1154.8 L468.2,1144.2 L470.4,1131.6 L472.6,1121.0 L474.9,1116.6 L476.9,1117.3 L478.9,1119.1 L480.9,1121.8 L482.9,1124.8 L484.9,1127.7 L486.9,1130.4 L488.9,1132.2 L490.9,1132.9 L492.8,1130.1 L494.8,1123.4 L496.8,1115.5 L498.7,1108.8 L500.7,1106.0 L502.8,1106.0 L504.9,1106.1 L507.0,1106.3 L509.1,1106.6 L511.2,1107.0 L513.3,1107.5 L515.4,1108.1 L517.2,1117.0 L519.1,1135.9 L520.9,1154.7 L522.8,1163.2 L524.9,1162.9 L527.0,1162.1 L529.1,1160.8 L531.2,1159.0 L533.3,1156.8 L535.4,1154.4 L537.5,1151.6 L539.5,1145.9 L541.5,1136.2 L543.4,1125.5 L545.4,1116.9 L547.4,1113.3 L549.4,1117.9 L551.3,1128.9 L553.3,1141.9 L555.3,1152.9 L557.2,1157.5 L559.5,1154.2 L561.7,1146.3 L563.9,1136.8 L566.1,1128.9 L568.3,1125.6 L570.5,1128.9 L572.7,1137.4 L574.9,1148.6 L577.1,1160.4 L579.3,1170.3 L581.5,1176.0 L583.6,1178.6 L585.7,1181.0 L587.9,1183.1 L590.0,1184.6 L592.1,1185.6 L594.2,1186.0 L596.1,1181.9 L598.1,1171.7 L600.1,1159.2 L602.1,1147.7 L604.0,1140.7 L606.3,1137.3 L608.5,1134.7 L610.7,1132.8 L613.0,1130.9 L615.2,1128.9 L617.5,1126.4 L619.5,1123.3 L621.6,1119.7 L623.6,1115.7 L625.7,1111.9 L627.7,1108.3 L629.8,1105.5 L631.8,1103.3 L633.9,1101.5 L635.9,1099.8 L638.0,1098.2 L640.0,1096.5 L642.1,1094.5 L644.3,1091.9 L646.4,1088.7 L648.6,1085.2 L650.8,1081.4 L652.9,1077.7 L655.1,1074.3 L657.3,1071.2 L659.5,1068.8 L661.6,1067.2 L663.8,1066.6 L665.9,1068.2 L667.9,1072.3 L670.0,1077.5 L672.0,1082.7 L674.1,1086.8 L676.1,1088.4 L677.9,1085.5 L679.8,1079.0 L681.6,1071.6 L683.4,1066.5 L685.5,1063.1 L687.6,1059.8 L689.7,1056.9 L691.8,1054.4 L693.9,1052.5 L696.1,1051.2 L698.2,1050.8 L700.2,1055.0 L702.3,1065.4 L704.3,1078.9 L706.4,1092.4 L708.4,1102.8 L710.5,1107.0 L712.7,1101.9 L714.9,1089.7 L717.1,1075.1 L719.4,1062.9 L721.6,1057.8 L723.5,1058.0 L725.4,1058.5 L727.4,1059.4 L729.3,1060.7 L731.2,1062.3 L733.2,1064.2 L735.1,1066.5 L737.1,1078.0 L739.1,1101.7 L741.0,1129.1 L743.0,1151.8 L745.0,1161.3 L747.1,1148.7 L749.3,1121.1 L751.4,1093.5 L753.6,1080.9 L755.6,1081.0 L757.6,1081.3 L759.6,1081.7 L761.6,1082.3 L763.6,1083.1 L765.6,1084.0 L767.6,1085.1 L769.6,1086.3 L771.7,1091.1 L773.8,1101.2 L776.0,1113.6 L778.1,1125.9 L780.2,1135.2 L782.4,1138.9 L784.6,1136.9 L786.8,1131.7 L789.1,1124.4 L791.3,1116.0 L793.5,1107.5 L795.8,1100.2 L798.0,1095.0 L800.3,1093.0 L802.4,1098.8 L804.5,1112.8 L806.6,1129.4 L808.8,1143.4 L810.9,1149.2 L813.1,1126.0 L815.3,1080.7 L817.5,1050.0 L819.3,1041.5 L821.2,1037.8 L823.4,1039.8 L825.6,1044.6 L827.8,1050.4 L830.1,1055.2 L832.3,1057.2 L834.2,1048.4 L836.1,1032.1 L838.0,1023.3 L840.0,1025.6 L842.1,1031.0 L844.2,1037.4 L846.2,1042.8 L848.3,1045.1 L850.5,1039.2 L852.7,1025.0 L854.9,1008.0 L857.1,993.8 L859.4,987.9 L861.4,989.4 L863.5,993.4 L865.5,999.1 L867.6,1006.0 L869.6,1013.1 L871.7,1020.0 L873.7,1025.7 L875.8,1029.7 L877.8,1031.2 L879.8,1026.0 L881.8,1013.6 L883.7,998.9 L885.7,986.5 L887.7,981.3 L889.9,981.7 L892.2,982.8 L894.4,984.5 L896.6,986.8 L898.9,989.7 L901.1,992.9 L903.1,1000.1 L905.1,1012.8 L907.0,1027.0 L909.0,1038.5 L911.0,1043.3 L913.1,1034.1 L915.3,1013.8 L917.4,993.3 L919.6,983.6 L921.6,983.1 L923.5,982.8 L925.5,982.6 L927.5,982.4 L929.4,981.9 L931.3,979.6 L933.2,974.9 L935.1,969.6 L937.0,965.1 L938.8,963.3 L940.8,965.6 L942.7,971.5 L944.6,979.1 L946.5,986.8 L948.5,992.7 L950.4,995.0 L952.5,994.0 L954.7,991.6 L956.8,989.0 L959.0,987.4 L961.0,986.7 L963.1,986.0 L965.1,985.4 L967.2,985.0 L969.3,984.7 L971.3,984.6 L973.2,986.2 L975.2,990.3 L977.1,995.9 L979.0,1001.9 L981.0,1007.5 L982.9,1011.6 L984.9,1013.2 L986.9,1011.1 L989.0,1005.8 L991.0,998.9 L993.1,992.0 L995.1,986.7 L997.2,984.6 L999.1,984.8 L1001.0,985.4 L1003.0,986.3 L1004.9,987.3 L1006.8,988.5 L1008.8,989.6 L1010.7,990.7 L1012.7,991.6 L1014.8,992.5 L1016.8,993.4 L1018.8,994.5 L1020.9,995.8 L1022.9,997.7 L1024.8,1002.8 L1026.6,1011.4 L1028.5,1019.5 L1030.3,1023.1 L1032.5,1021.0 L1034.7,1016.0 L1036.9,1009.9 L1039.2,1004.9 L1041.4,1002.8 L1043.5,1004.2 L1045.7,1007.2 L1047.8,1010.3 L1050.0,1011.7 L1052.1,1009.8 L1054.2,1005.7 L1056.3,1001.6 L1058.4,999.7 L1060.5,1001.4 L1062.7,1005.8 L1064.8,1011.5 L1067.0,1017.2 L1069.1,1021.6 L1071.3,1023.3 L1073.4,1022.8 L1075.5,1021.6 L1077.6,1020.0 L1079.8,1018.3 L1081.9,1017.1 L1084.0,1016.6 L1086.1,1018.3 L1088.1,1022.5 L1090.1,1028.0 L1092.2,1033.6 L1094.2,1037.8 L1096.2,1039.5 L1098.4,1038.3 L1100.7,1035.3 L1102.9,1031.7 L1105.1,1028.7 L1107.3,1027.5 L1109.5,1027.5 L1111.6,1027.5 L1113.8,1027.5 L1115.9,1027.5 L1118.0,1027.3 L1120.0,1027.0 L1122.1,1026.5 L1124.1,1025.9 L1126.2,1025.6 L1128.2,1025.4 L1130.2,1026.4 L1132.2,1029.1 L1134.2,1032.8 L1136.3,1037.2 L1138.3,1041.5 L1140.3,1045.2 L1142.3,1047.9 L1144.3,1048.9 L1146.4,1043.9 L1148.6,1032.7 L1150.7,1020.9 L1152.9,1014.3 L1154.7,1012.7 L1156.6,1011.5 L1158.4,1010.6 L1160.3,1009.9 L1162.3,1009.1 L1164.4,1008.4 L1166.4,1007.7 L1168.5,1007.2 L1170.5,1006.8 L1172.6,1006.7 L1174.5,1007.0 L1176.5,1007.7 L1178.5,1008.4 L1180.5,1009.1 L1182.4,1009.4 L1184.5,1008.7 L1186.5,1006.7 L1188.6,1003.8 L1190.6,1000.4 L1192.7,996.8 L1194.7,993.4 L1196.9,989.7 L1199.0,985.4 L1201.2,980.7 L1203.3,975.8 L1205.4,970.9 L1207.6,966.2 L1209.7,961.9 L1211.9,958.2 L1214.0,955.0 L1216.1,952.0 L1218.2,949.2 L1220.3,946.5 L1222.4,944.0 L1224.5,941.7 L1226.6,939.6 L1228.7,937.7 L1230.7,935.8 L1232.8,934.1 L1234.9,932.5 L1236.9,931.1 L1239.0,929.7 L1241.0,928.3 L1243.1,926.9 L1245.1,925.5 L1247.2,924.3 L1249.2,923.5 L1251.3,923.2 L1253.4,923.5 L1255.5,924.3 L1257.6,925.6 L1259.7,927.1 L1261.8,928.7 L1263.9,930.4 L1266.0,931.9 L1268.2,933.6 L1270.3,935.6 L1272.4,937.8 L1274.5,939.9 L1276.6,941.7 L1278.7,942.9 L1280.8,943.4 L1282.9,943.2 L1285.0,942.8 L1287.2,942.1 L1289.3,941.3 L1291.4,940.4 L1293.5,939.4 L1295.6,938.5 L1297.7,937.5 L1299.9,936.2 L1302.0,934.8 L1304.2,933.4 L1306.3,931.8 L1308.4,930.3 L1310.6,928.9 L1312.7,927.5 L1314.9,926.2 L1317.1,924.8 L1319.3,923.5 L1321.5,922.2 L1323.7,920.9 L1325.9,919.7 L1328.0,918.5 L1330.2,917.5 L1332.4,916.5 L1334.6,915.6 L1336.8,914.6 L1339.0,913.6 L1341.2,912.7 L1343.4,911.8 L1345.6,911.1 L1347.7,910.5 L1349.9,910.1 L1352.1,910.0 L1354.3,910.1 L1356.5,910.3 L1358.7,910.6 L1360.9,911.1 L1363.1,911.6 L1365.3,912.2 L1367.5,912.9 L1369.6,913.6 L1371.8,914.3 L1374.0,915.1 L1376.1,916.2 L1378.3,917.4 L1380.4,918.8 L1382.6,920.3 L1384.8,921.9 L1386.9,923.6 L1389.1,925.3 L1391.1,927.0 L1393.2,928.9 L1395.2,930.9 L1397.3,933.1 L1399.3,935.7 L1401.4,938.5 L1403.4,941.8 L1405.3,945.7 L1407.3,950.1 L1409.3,955.1 L1411.2,960.4 L1413.1,966.0 L1414.9,972.4 L1416.8,979.4 L1418.6,986.8 L1420.4,995.5 L1422.3,1005.6 L1424.1,1015.0 L1425.9,1022.0 L1427.9,1027.7 L1429.9,1033.0 L1431.9,1037.8 L1434.0,1041.6 L1436.0,1044.1 L1438.0,1045.0 L1440.2,1043.1 L1442.4,1038.1 L1444.6,1031.0 L1446.9,1023.0 L1449.1,1015.0 L1450.9,1007.5 L1452.7,998.4 L1454.5,989.7 L1456.3,983.0 L1458.3,977.9 L1460.3,973.6 L1462.2,970.0 L1464.2,967.0 L1466.2,964.3 L1468.3,962.0 L1470.3,959.9 L1472.3,958.0 L1474.4,956.2 L1476.4,954.5 L1478.4,952.8 L1480.5,951.0 L1482.5,948.9 L1484.6,946.7 L1486.7,944.0 L1488.8,941.2 L1491.0,938.1 L1493.1,935.0 L1495.3,931.8 L1497.4,928.6 L1499.5,925.5 L1501.7,922.5 L1503.8,919.6 L1506.0,916.6 L1508.1,913.7 L1510.3,910.8 L1512.5,908.0 L1514.6,905.3 L1516.8,902.8 L1518.9,900.5 L1521.1,898.4 L1523.2,896.4 L1525.4,894.5 L1527.5,892.8 L1529.7,891.1 L1531.8,889.4 L1534.0,887.8 L1536.2,886.3 L1538.3,884.8 L1540.5,883.3 L1542.7,881.9 L1544.9,880.5 L1547.1,879.1 L1549.3,877.8 L1551.5,876.6 L1553.7,875.4 L1555.9,874.2 L1558.1,873.1 L1560.3,872.0 L1562.6,870.9 L1564.8,869.9 L1567.1,868.9 L1569.3,867.9 L1571.5,866.9 L1573.8,866.0 L1576.0,865.1 L1578.2,864.1 L1580.5,863.2 L1582.7,862.3 L1584.9,861.4 L1587.1,860.5 L1589.2,859.6 L1591.4,858.7 L1593.6,857.8 L1595.8,857.0 L1598.0,856.2 L1600.2,855.5 L1602.4,854.8 L1604.6,854.2 L1606.9,853.6 L1609.1,853.1 L1611.3,852.6 L1613.6,852.1 L1615.8,851.5 L1618.0,851.0 L1620.2,850.4 L1622.5,849.7 L1624.7,848.9 L1626.9,848.0 L1629.1,846.9 L1631.3,845.7 L1633.5,844.4 L1635.6,843.0 L1637.8,841.7 L1640.0,840.3 L1642.2,839.1 L1644.4,837.9 L1646.6,836.8 L1648.8,835.8 L1651.1,834.8 L1653.3,833.9 L1655.5,833.0 L1657.7,832.0 L1659.9,831.1 L1662.1,830.1 L1664.4,829.1 L1666.6,828.0 L1668.7,826.9 L1670.9,825.7 L1673.0,824.5 L1675.2,823.3 L1677.3,822.0 L1679.5,820.7 L1681.7,819.4 L1683.8,818.1 L1685.9,816.7 L1688.0,815.3 L1690.1,813.8 L1692.2,812.3 L1694.4,810.9 L1696.5,809.5 L1698.6,808.2 L1700.7,807.0 L1702.9,805.8 L1705.0,804.6 L1707.1,803.5 L1709.3,802.4 L1711.4,801.4 L1713.6,800.4 L1715.7,799.5 L1717.9,798.6 L1720.1,797.7 L1722.3,796.9 L1724.5,796.1 L1726.7,795.3 L1728.8,794.6 L1731.0,794.0 L1733.2,793.4 L1735.4,792.9 L1737.6,792.5 L1739.8,792.0 L1742.1,791.7 L1744.3,791.3 L1746.5,791.0 L1748.7,790.7 L1750.9,790.4 L1753.1,790.1 L1755.4,789.8 L1757.6,789.6 L1759.8,789.4 L1762.0,789.1 L1764.1,788.8 L1766.3,788.6 L1768.5,788.4 L1770.7,788.2 L1772.9,788.0 L1775.1,787.9 L1777.3,787.9 L1779.5,788.0 L1781.8,788.2 L1784.0,788.5 L1786.2,788.8 L1788.5,789.2 L1790.7,789.7 L1792.9,790.1 L1795.2,790.4 L1797.4,790.7 L1799.7,790.9 L1801.9,791.0 L1804.1,790.9 L1806.4,790.6 L1808.6,790.2 L1810.8,789.6 L1813.0,789.0 L1815.3,788.4 L1817.5,787.8 L1819.7,787.2 L1822.0,786.8 L1824.2,786.5 L1826.4,786.4 L1828.6,786.5 L1830.8,786.8 L1833.0,787.2 L1835.2,787.7 L1837.4,788.2 L1839.6,788.7 L1841.7,789.1 L1843.9,789.4 L1846.1,789.5 L1848.2,789.4 L1850.2,789.0 L1852.3,788.5 L1854.3,787.9 L1856.4,787.3 L1858.4,786.8 L1860.4,786.4 L1862.7,786.1 L1864.9,785.9 L1867.2,785.7 L1869.4,785.5 L1871.6,785.3 L1873.9,785.2 L1876.1,785.0 L1878.4,784.9 L1880.6,784.7 L1882.8,784.4 L1885.1,784.2 L1887.3,783.9 L1889.5,783.6 L1891.8,783.2 L1894.0,782.8 L1896.2,782.3 L1898.4,781.9 L1900.7,781.4 L1902.9,781.0 L1905.1,780.6 L1907.4,780.2 L1909.6,779.8 L1911.8,779.4 L1914.1,779.1 L1916.3,778.7 L1918.5,778.3 L1920.8,777.9 L1923.0,777.6 L1925.3,777.2 L1927.5,777.0 L1929.7,776.8 L1932.0,776.6 L1934.2,776.6 L1936.3,776.8 L1938.4,777.2 L1940.5,777.7 L1942.7,778.4 L1944.8,778.9 L1946.9,779.3 L1949.0,779.5 L1951.2,779.4 L1953.4,779.0 L1955.6,778.6 L1957.7,778.0 L1959.9,777.4 L1962.1,776.8 L1964.3,776.4 L1966.5,776.0 L1968.7,775.9 L1970.9,776.0 L1973.2,776.2 L1975.4,776.5 L1977.6,776.8 L1979.9,777.3 L1982.1,777.8 L1984.4,778.4 L1986.6,779.0 L1988.8,779.6 L1991.1,780.1 L1993.3,780.7 L1995.5,781.2 L1997.7,781.8 L1999.9,782.4 L2002.0,783.0 L2004.2,783.7 L2006.4,784.4 L2008.6,785.1 L2010.7,785.9 L2012.9,786.8 L2015.0,787.9 L2017.0,789.3 L2019.1,791.0 L2021.1,792.7 L2023.2,794.4 L2025.2,796.0 L2027.3,797.2 L2029.3,798.1 L2031.4,798.4 L2033.5,798.1 L2035.7,797.2 L2037.8,795.8 L2040.0,794.1 L2042.2,792.2 L2044.3,790.1 L2046.5,788.1 L2048.6,786.2 L2050.8,784.5 L2052.9,783.1 L2055.1,782.2 L2057.2,781.9 L2059.3,782.2 L2061.5,783.0 L2063.6,784.1 L2065.7,785.4 L2067.8,786.8 L2069.9,788.0 L2072.0,789.0 L2074.3,789.8 L2076.5,790.6 L2078.7,791.3 L2081.0,792.0 L2083.2,792.6 L2085.4,793.3 L2087.7,793.9 L2089.9,794.6 L2092.2,795.2 L2094.4,795.9 L2096.6,796.7 L2098.8,797.5 L2101.0,798.3 L2103.2,799.2 L2105.3,800.1 L2107.5,801.0 L2109.7,801.9 L2111.9,802.8 L2114.1,803.6 L2116.2,804.4 L2118.4,805.2 L2120.5,806.0 L2122.6,806.9 L2124.7,807.7 L2126.9,808.6 L2129.0,809.3 L2131.1,810.0 L2133.2,810.6 L2135.4,811.1 L2137.5,811.4 L2139.6,811.5 L2141.6,811.0 L2143.6,809.5 L2145.6,807.3 L2147.6,804.6 L2149.6,801.7 L2151.6,798.7 L2153.6,795.8 L2155.6,793.4 L2157.7,791.0 L2159.9,788.6 L2162.0,786.2 L2164.1,783.8 L2166.2,781.6 L2168.3,779.7 L2170.4,778.0 L2172.5,776.6 L2174.6,775.4 L2176.7,774.3 L2178.9,773.2 L2181.0,772.3 L2183.1,771.3 L2185.2,770.3 L2187.2,769.4 L2189.3,768.7 L2191.3,768.0 L2193.4,767.2 L2195.4,766.2 L2197.5,764.8 L2199.3,761.8 L2201.2,756.9 L2203.0,751.5 L2204.9,747.3 L2206.9,744.0 L2209.0,741.2 L2211.0,738.6 L2213.1,736.2 L2215.1,734.0 L2217.2,731.9 L2219.3,729.7 L2221.4,727.5 L2223.5,725.3 L2225.6,723.3 L2227.7,721.6 L2229.8,720.4 L2231.9,719.8 L2234.0,719.5 L2236.1,719.3 L2238.3,719.1 L2240.4,718.9 L2242.6,718.8 L2244.7,718.7 L2246.8,718.6 L2249.0,718.5 L2251.1,718.4 L2253.2,718.3 L2255.3,718.3 L2257.5,718.2 L2259.6,718.2 L2261.7,718.2 L2263.8,718.1 L2265.9,718.0 L2267.9,717.7 L2269.8,717.1 L2271.8,716.3 L2273.8,715.5 L2275.7,714.8 L2277.9,714.0 L2280.0,713.1 L2282.1,712.2 L2284.2,711.3 L2286.3,710.6 L2288.4,710.1 L2290.5,709.9 L2292.5,710.2 L2294.5,710.8 L2296.5,711.8 L2298.5,712.8 L2300.5,713.9 L2302.4,714.9 L2304.4,715.5 L2306.4,715.8 L2308.4,715.6 L2310.4,715.0 L2312.4,714.1 L2314.4,713.1 L2316.4,712.2 L2318.4,711.3 L2320.4,710.7 L2322.4,710.5 L2324.6,710.5 L2326.8,710.7 L2329.0,710.8 L2331.2,711.1 L2333.4,711.3 L2335.6,711.6 L2337.7,711.9 L2339.9,712.3 L2342.1,712.6 L2344.2,713.0 L2346.2,713.6 L2348.3,714.2 L2350.3,714.8 L2352.4,715.2 L2354.4,715.4 L2356.4,714.9 L2358.4,713.9 L2360.4,712.5 L2362.3,711.5 L2364.3,711.0 L2366.3,711.4 L2368.2,712.3 L2370.2,713.4 L2372.2,714.3 L2374.1,714.7 L2376.2,714.3 L2378.2,713.4 L2380.3,712.1 L2382.4,710.6 L2384.4,709.1 L2386.5,707.8 L2388.5,706.8 L2390.6,705.8 L2392.6,704.8 L2394.7,703.8 L2396.7,702.7 L2398.8,701.6 L2400.8,700.3 L2402.8,699.0 L2404.9,697.5 L2406.9,696.0 L2408.9,694.5 L2411.0,692.9 L2412.8,691.2 L2414.7,689.4 L2416.5,687.7 L2418.4,686.7 L2420.4,686.2 L2422.5,685.8 L2424.5,685.5 L2426.6,685.3 L2428.6,684.9 L2430.7,684.5 L2432.7,683.7 L2434.8,682.5 L2436.8,681.2 L2438.9,680.0 L2440.9,679.1 L2443.0,678.7 L2445.0,679.1 L2447.1,680.2 L2449.1,681.7 L2451.2,683.1 L2453.2,684.2 L2455.3,684.6 L2457.3,682.8 L2459.2,678.5 L2461.2,673.3 L2463.2,669.0 L2465.1,667.2 L2467.4,668.6 L2469.6,672.1 L2471.8,676.6 L2474.0,681.0 L2476.2,684.1 L2478.4,686.1 L2480.7,687.9 L2482.9,689.4 L2485.1,690.7 L2487.3,691.8 L2489.4,692.6 L2491.5,693.2 L2493.6,693.7 L2495.8,694.2 L2497.9,694.7 L2500.0,695.3 L2502.1,696.2 L2503.9,697.6 L2505.8,699.6 L2507.6,701.5 L2509.5,702.7 L2511.6,703.3 L2513.7,703.8 L2515.8,704.1 L2517.9,704.4 L2520.0,704.7 L2522.0,705.1 L2524.1,705.6 L2526.2,706.4 L2528.2,707.4 L2530.3,708.7 L2532.4,710.2 L2534.4,711.9 L2536.5,713.7 L2538.4,716.4 L2540.4,720.3 L2542.4,724.2 L2544.3,727.3 L2546.3,728.6 L2548.3,727.2 L2550.2,723.6 L2552.2,718.6 L2554.2,713.2 L2556.2,708.2 L2557.8,703.8 L2559.4,699.1 L2561.1,696.2 L2563.3,694.4 L2565.5,692.9 L2567.7,691.8 L2569.9,691.0 L2572.2,690.8 L2574.1,691.0 L2576.0,691.4 L2578.0,692.0 L2579.9,692.7 L2581.8,693.3 L2583.8,693.7 L2585.7,693.9 L2587.6,693.8 L2589.6,693.5 L2591.5,693.1 L2593.4,692.5 L2595.4,692.0 L2597.3,691.5 L2599.3,691.0" stroke="#000080" stroke-width="15"/>
<use href="#c2" x="-2.0"/><use href="#c2" x="-1.0"/><use href="#c2" x="1.0"/><use href="#c2" x="2.0"/>
<path id="c3" transform="scale(0.8933,1)" d="M241.8,549.0 L244.0,548.4 L246.3,547.9 L248.5,547.0 L250.6,544.2 L252.6,538.7 L254.7,532.0 L256.7,525.5 L258.8,520.6 L260.8,518.6 L262.9,519.3 L264.9,521.2 L267.0,523.6 L269.0,526.2 L271.1,528.4 L273.1,529.7 L275.1,530.2 L277.0,530.6 L279.0,530.8 L280.9,531.2 L282.9,531.9 L284.7,535.6 L286.6,542.8 L288.4,549.8 L290.3,552.9 L292.2,551.1 L294.1,546.4 L296.1,540.1 L298.0,533.1 L299.9,526.8 L301.9,522.1 L303.8,520.3 L306.0,521.5 L308.2,524.5 L310.5,528.2 L312.7,531.4 L314.9,533.0 L316.8,533.3 L318.8,533.5 L320.7,533.6 L322.6,533.8 L324.6,533.9 L326.5,534.1 L328.4,534.5 L330.3,539.6 L332.1,550.4 L334.0,561.0 L335.8,565.8 L338.0,564.5 L340.3,561.4 L342.5,557.5 L344.7,553.8 L346.9,551.6 L349.1,550.4 L351.3,549.4 L353.6,548.6 L355.8,548.0 L358.0,547.8 L359.8,551.0 L361.7,558.1 L363.5,565.3 L365.4,568.5 L367.5,566.1 L369.6,560.0 L371.7,551.5 L373.8,542.4 L375.9,533.9 L378.0,527.8 L380.1,525.4 L382.2,527.3 L384.2,532.3 L386.3,539.6 L388.3,548.2 L390.3,557.3 L392.4,565.9 L394.4,573.2 L396.5,578.2 L398.5,580.1 L400.6,576.2 L402.6,566.5 L404.7,553.9 L406.7,541.2 L408.8,531.5 L410.8,527.6 L412.9,528.8 L415.1,532.0 L417.2,536.8 L419.3,542.7 L421.5,549.3 L423.6,556.2 L425.7,562.8 L427.8,568.7 L430.0,573.5 L432.1,576.7 L434.2,577.9 L436.2,575.0 L438.1,567.5 L440.0,557.2 L442.0,546.1 L443.9,535.8 L445.8,528.3 L447.8,525.4 L449.9,528.4 L452.0,536.2 L454.1,546.9 L456.2,558.6 L458.3,569.3 L460.4,577.1 L462.5,580.1 L464.6,576.9 L466.6,569.1 L468.7,558.8 L470.7,548.5 L472.8,540.7 L474.9,537.5 L477.0,538.4 L479.2,540.9 L481.3,544.4 L483.5,548.4 L485.6,552.3 L487.8,555.8 L489.9,558.3 L492.1,559.2 L494.2,555.2 L496.4,546.4 L498.6,537.5 L500.7,533.5 L502.9,533.6 L505.2,533.8 L507.4,534.3 L509.7,534.9 L511.9,535.7 L514.1,536.7 L516.3,545.8 L518.5,564.4 L520.6,582.8 L522.8,591.1 L524.9,590.6 L527.0,589.2 L529.1,587.1 L531.2,584.3 L533.3,581.1 L535.4,577.4 L537.5,573.6 L539.4,568.0 L541.2,559.6 L543.0,550.7 L544.9,543.7 L546.7,540.8 L548.8,545.6 L550.9,557.0 L553.0,570.5 L555.1,581.9 L557.2,586.7 L559.5,583.5 L561.7,575.7 L563.9,566.5 L566.1,558.7 L568.3,555.5 L570.5,559.1 L572.7,568.2 L574.9,580.4 L577.1,593.1 L579.3,603.8 L581.5,610.0 L583.5,612.7 L585.5,615.2 L587.5,617.5 L589.5,619.3 L591.4,620.7 L593.4,621.6 L595.4,621.9 L597.6,615.4 L599.7,600.7 L601.9,585.1 L604.0,575.8 L606.3,572.5 L608.5,570.1 L610.7,568.3 L613.0,566.7 L615.2,564.9 L617.5,562.6 L619.5,559.8 L621.6,556.4 L623.6,552.8 L625.7,549.2 L627.7,545.8 L629.8,542.9 L631.8,540.4 L633.9,538.3 L635.9,536.2 L638.0,534.2 L640.0,532.1 L642.1,529.7 L644.2,526.6 L646.4,522.9 L648.5,518.7 L650.6,514.5 L652.8,510.4 L654.9,506.7 L657.1,503.7 L659.2,501.7 L661.3,501.0 L663.5,501.9 L665.6,504.4 L667.7,507.7 L669.8,511.4 L671.9,514.7 L674.0,517.2 L676.1,518.1 L678.2,512.5 L680.2,501.4 L682.3,493.4 L684.4,489.9 L686.5,486.8 L688.6,484.1 L690.7,481.9 L692.8,480.2 L694.8,479.2 L696.9,478.8 L698.9,481.6 L700.8,489.0 L702.7,499.0 L704.7,510.0 L706.6,520.0 L708.6,527.4 L710.5,530.2 L712.5,524.4 L714.4,510.7 L716.4,494.3 L718.4,480.6 L720.3,474.8 L722.4,475.2 L724.6,476.3 L726.7,478.0 L728.8,480.4 L730.9,483.5 L733.0,487.1 L735.1,491.2 L737.0,501.7 L738.8,521.0 L740.7,542.8 L742.5,560.6 L744.4,568.0 L746.4,560.3 L748.3,541.8 L750.3,519.7 L752.3,501.2 L754.3,493.5 L756.4,493.8 L758.6,494.6 L760.8,495.8 L763.0,497.4 L765.2,499.5 L767.4,501.8 L769.6,504.4 L771.6,509.9 L773.7,519.6 L775.7,531.2 L777.8,542.4 L779.9,550.9 L781.9,554.2 L784.0,552.3 L786.2,547.5 L788.3,540.6 L790.5,532.7 L792.6,524.7 L794.7,517.8 L796.9,513.0 L799.0,511.1 L801.0,515.0 L803.0,524.6 L805.0,537.2 L806.9,549.7 L808.9,559.3 L810.9,563.2 L813.1,541.5 L815.3,499.1 L817.5,470.0 L819.3,461.5 L821.2,457.7 L823.4,460.0 L825.6,465.6 L827.8,472.2 L830.1,477.8 L832.3,480.1 L833.9,471.4 L835.6,455.4 L837.2,446.7 L839.2,448.7 L841.1,453.6 L843.1,459.4 L845.1,464.3 L847.1,466.3 L849.3,460.7 L851.5,447.4 L853.7,431.5 L855.9,418.2 L858.1,412.6 L860.3,413.9 L862.5,417.2 L864.7,422.1 L866.9,427.9 L869.1,434.1 L871.3,439.9 L873.5,444.8 L875.6,448.1 L877.8,449.4 L879.7,444.5 L881.6,433.0 L883.4,419.1 L885.3,407.6 L887.1,402.7 L889.3,403.1 L891.4,404.3 L893.6,406.0 L895.7,408.4 L897.9,411.2 L900.0,414.3 L902.1,420.9 L904.1,432.0 L906.2,444.2 L908.2,454.0 L910.3,458.1 L912.2,452.3 L914.0,438.3 L915.9,421.7 L917.7,407.7 L919.6,401.9 L921.7,402.6 L923.9,404.2 L926.1,405.8 L928.2,406.5 L930.2,404.8 L932.1,400.6 L934.1,395.7 L936.1,391.5 L938.1,389.8 L940.3,392.7 L942.5,399.8 L944.7,408.1 L946.9,415.2 L949.1,418.1 L951.1,416.9 L953.1,414.1 L955.1,410.7 L957.0,407.9 L959.0,406.7 L961.1,406.7 L963.2,406.9 L965.3,407.1 L967.4,407.4 L969.5,407.8 L971.7,408.3 L973.8,408.8 L976.0,411.8 L978.2,418.1 L980.4,425.4 L982.6,431.5 L984.9,434.0 L987.1,431.2 L989.3,424.5 L991.5,416.6 L993.7,409.9 L995.9,407.1 L998.0,407.5 L1000.2,408.5 L1002.3,410.0 L1004.4,411.7 L1006.5,413.5 L1008.6,415.2 L1010.7,416.5 L1012.7,417.4 L1014.8,418.1 L1016.8,418.8 L1018.8,419.5 L1020.9,420.6 L1022.9,422.0 L1024.8,426.2 L1026.6,433.5 L1028.5,440.3 L1030.3,443.4 L1032.5,441.5 L1034.7,436.8 L1036.9,431.3 L1039.2,426.6 L1041.4,424.7 L1043.5,426.1 L1045.7,429.1 L1047.8,432.1 L1050.0,433.5 L1051.9,432.7 L1053.9,430.9 L1055.8,428.6 L1057.7,426.8 L1059.6,426.0 L1061.6,427.7 L1063.5,431.8 L1065.4,437.1 L1067.4,442.5 L1069.3,446.6 L1071.3,448.3 L1073.4,447.9 L1075.5,446.9 L1077.6,445.6 L1079.8,444.4 L1081.9,443.4 L1084.0,443.0 L1086.1,444.6 L1088.1,448.6 L1090.1,453.9 L1092.2,459.1 L1094.2,463.1 L1096.2,464.7 L1098.2,463.8 L1100.2,461.7 L1102.1,459.1 L1104.1,457.0 L1106.1,456.1 L1108.1,456.5 L1110.0,457.4 L1112.0,458.6 L1114.0,459.5 L1115.9,459.9 L1118.0,459.7 L1120.0,459.3 L1122.1,458.7 L1124.1,458.1 L1126.2,457.7 L1128.2,457.5 L1130.2,458.2 L1132.2,460.1 L1134.2,462.8 L1136.3,465.9 L1138.3,468.9 L1140.3,471.6 L1142.3,473.5 L1144.3,474.2 L1146.4,470.1 L1148.6,460.7 L1150.7,450.9 L1152.9,445.1 L1154.7,443.5 L1156.6,442.4 L1158.4,441.5 L1160.3,440.7 L1162.3,439.7 L1164.4,438.8 L1166.4,437.9 L1168.5,437.1 L1170.5,436.6 L1172.6,436.4 L1174.5,436.7 L1176.5,437.5 L1178.5,438.4 L1180.5,439.2 L1182.4,439.5 L1184.5,438.7 L1186.5,436.5 L1188.6,433.3 L1190.6,429.6 L1192.7,425.7 L1194.7,422.0 L1196.9,418.1 L1199.0,413.8 L1201.2,409.1 L1203.3,404.3 L1205.4,399.5 L1207.6,394.9 L1209.7,390.6 L1211.9,386.8 L1214.0,383.5 L1216.1,380.3 L1218.2,377.3 L1220.3,374.5 L1222.4,371.8 L1224.5,369.3 L1226.6,367.0 L1228.7,364.8 L1230.7,362.7 L1232.8,360.7 L1234.9,358.9 L1236.9,357.3 L1239.0,356.0 L1240.9,354.9 L1242.8,353.8 L1244.8,352.8 L1246.7,351.9 L1248.6,351.2 L1250.6,350.8 L1252.5,350.6 L1254.4,350.9 L1256.4,351.8 L1258.3,353.1 L1260.2,354.7 L1262.2,356.3 L1264.1,357.9 L1266.0,359.3 L1268.2,360.8 L1270.3,362.5 L1272.4,364.2 L1274.5,365.9 L1276.6,367.2 L1278.7,368.2 L1280.8,368.5 L1282.9,368.4 L1285.0,368.1 L1287.2,367.6 L1289.3,367.0 L1291.4,366.3 L1293.5,365.6 L1295.6,364.8 L1297.7,363.9 L1299.9,362.7 L1302.0,361.4 L1304.2,359.9 L1306.3,358.4 L1308.4,356.8 L1310.6,355.3 L1312.7,353.8 L1314.9,352.3 L1317.1,350.7 L1319.3,349.1 L1321.5,347.5 L1323.7,345.9 L1325.9,344.3 L1328.0,343.0 L1330.2,341.7 L1332.4,340.7 L1334.6,339.8 L1336.8,338.9 L1339.0,338.0 L1341.2,337.1 L1343.4,336.4 L1345.6,335.7 L1347.7,335.2 L1349.9,334.9 L1352.1,334.8 L1354.3,334.9 L1356.5,335.1 L1358.7,335.5 L1360.9,336.0 L1363.1,336.6 L1365.3,337.3 L1367.5,338.0 L1369.6,338.8 L1371.8,339.6 L1374.0,340.5 L1376.1,341.6 L1378.3,342.9 L1380.4,344.4 L1382.6,346.1 L1384.8,347.8 L1386.9,349.7 L1389.1,351.6 L1391.1,353.6 L1393.2,355.7 L1395.2,358.1 L1397.3,360.8 L1399.3,363.7 L1401.4,367.0 L1403.4,370.7 L1405.3,375.0 L1407.3,380.0 L1409.3,385.4 L1411.2,391.2 L1413.1,397.3 L1414.9,404.2 L1416.8,411.8 L1418.6,419.8 L1420.4,429.1 L1422.3,439.6 L1424.1,449.6 L1425.9,457.1 L1427.8,462.9 L1429.7,468.5 L1431.5,473.5 L1433.4,477.6 L1435.3,480.2 L1437.2,481.2 L1439.2,480.0 L1441.2,476.6 L1443.1,471.6 L1445.1,465.5 L1447.1,458.8 L1449.1,452.0 L1450.9,443.9 L1452.7,433.6 L1454.5,423.4 L1456.3,416.0 L1458.3,410.8 L1460.3,406.5 L1462.2,403.0 L1464.2,400.0 L1466.2,397.4 L1468.3,395.1 L1470.3,393.0 L1472.3,391.2 L1474.4,389.5 L1476.4,387.8 L1478.4,386.1 L1480.5,384.3 L1482.5,382.4 L1484.6,380.2 L1486.7,377.7 L1488.8,375.0 L1491.0,372.1 L1493.1,369.2 L1495.3,366.1 L1497.4,363.1 L1499.5,360.1 L1501.7,357.1 L1503.8,354.1 L1506.0,351.0 L1508.1,347.8 L1510.3,344.6 L1512.5,341.5 L1514.6,338.5 L1516.8,335.7 L1518.9,333.0 L1521.1,330.5 L1523.2,328.0 L1525.4,325.6 L1527.5,323.3 L1529.7,321.1 L1531.8,319.1 L1534.0,317.2 L1536.2,315.4 L1538.3,313.8 L1540.5,312.3 L1542.7,310.8 L1544.9,309.5 L1547.1,308.2 L1549.3,307.0 L1551.5,305.8 L1553.7,304.5 L1555.9,303.3 L1558.1,302.0 L1560.3,300.7 L1562.6,299.5 L1564.8,298.2 L1567.1,296.9 L1569.3,295.7 L1571.5,294.5 L1573.8,293.3 L1576.0,292.2 L1578.2,291.1 L1580.5,290.1 L1582.7,289.1 L1584.9,288.2 L1587.1,287.3 L1589.2,286.4 L1591.4,285.6 L1593.6,284.8 L1595.8,284.0 L1598.0,283.2 L1600.2,282.4 L1602.4,281.7 L1604.6,281.0 L1606.9,280.3 L1609.1,279.7 L1611.3,279.0 L1613.6,278.4 L1615.8,277.8 L1618.0,277.1 L1620.2,276.4 L1622.5,275.6 L1624.7,274.7 L1626.9,273.7 L1629.1,272.6 L1631.3,271.4 L1633.5,270.2 L1635.6,268.8 L1637.8,267.5 L1640.0,266.2 L1642.2,264.9 L1644.4,263.7 L1646.6,262.5 L1648.8,261.4 L1651.1,260.3 L1653.3,259.2 L1655.5,258.1 L1657.7,257.1 L1659.9,256.0 L1662.1,254.9 L1664.4,253.8 L1666.6,252.7 L1668.7,251.6 L1670.9,250.6 L1673.0,249.6 L1675.2,248.6 L1677.3,247.6 L1679.5,246.5 L1681.7,245.3 L1683.8,244.0 L1685.9,242.5 L1688.0,240.8 L1690.1,238.9 L1692.2,237.0 L1694.4,235.1 L1696.5,233.4 L1698.6,231.9 L1700.7,230.6 L1702.9,229.4 L1705.0,228.2 L1707.1,227.2 L1709.3,226.1 L1711.4,225.1 L1713.6,224.1 L1715.7,223.1 L1717.9,222.0 L1720.1,220.9 L1722.3,219.8 L1724.5,218.7 L1726.7,217.7 L1728.8,216.7 L1731.0,215.8 L1733.2,215.0 L1735.4,214.3 L1737.6,213.7 L1739.8,213.1 L1742.1,212.5 L1744.3,212.0 L1746.5,211.5 L1748.7,211.0 L1750.9,210.7 L1753.1,210.3 L1755.4,210.1 L1757.6,209.9 L1759.8,209.8 L1762.0,209.7 L1764.1,209.5 L1766.3,209.4 L1768.5,209.4 L1770.7,209.3 L1772.9,209.2 L1775.1,209.2 L1777.3,209.2 L1779.5,209.2 L1781.8,209.2 L1784.0,209.2 L1786.2,209.2 L1788.5,209.2 L1790.7,209.2 L1792.9,209.2 L1795.2,209.2 L1797.4,209.2 L1799.7,209.2 L1801.9,209.2 L1804.1,209.2 L1806.4,209.1 L1808.6,209.0 L1810.8,208.8 L1813.0,208.6 L1815.3,208.4 L1817.5,208.2 L1819.7,208.1 L1822.0,207.9 L1824.2,207.8 L1826.4,207.7 L1828.7,207.6 L1830.9,207.6 L1833.1,207.6 L1835.4,207.6 L1837.6,207.5 L1839.9,207.5 L1842.1,207.5 L1844.3,207.5 L1846.6,207.4 L1848.8,207.4 L1851.0,207.3 L1852.9,207.2 L1854.8,207.0 L1856.7,206.8 L1858.6,206.5 L1860.4,206.3 L1862.7,206.1 L1864.9,205.9 L1867.2,205.8 L1869.4,205.6 L1871.6,205.5 L1873.9,205.3 L1876.1,205.1 L1878.4,205.0 L1880.6,204.8 L1882.8,204.6 L1885.1,204.3 L1887.3,204.0 L1889.5,203.5 L1891.8,202.9 L1894.0,202.3 L1896.2,201.6 L1898.4,200.9 L1900.7,200.2 L1902.9,199.6 L1905.1,199.1 L1907.4,198.7 L1909.6,198.4 L1911.7,198.2 L1913.8,198.1 L1915.9,197.9 L1918.0,197.8 L1920.1,197.7 L1922.3,197.6 L1924.4,197.5 L1926.5,197.4 L1928.6,197.3 L1930.7,197.2 L1932.8,197.1 L1934.9,197.0 L1937.0,196.9 L1939.1,196.8 L1941.3,196.7 L1943.4,196.5 L1945.5,196.4 L1947.6,196.2 L1949.7,196.1 L1951.8,195.9 L1953.9,195.8 L1956.0,195.7 L1958.1,195.5 L1960.3,195.4 L1962.4,195.3 L1964.5,195.3 L1966.6,195.2 L1968.7,195.2 L1970.9,195.3 L1973.2,195.5 L1975.4,195.8 L1977.6,196.2 L1979.9,196.7 L1982.1,197.3 L1984.4,197.9 L1986.6,198.5 L1988.8,199.2 L1991.1,199.9 L1993.3,200.5 L1995.5,201.1 L1997.7,201.9 L1999.9,202.6 L2002.0,203.4 L2004.2,204.3 L2006.4,205.2 L2008.6,206.2 L2010.7,207.2 L2012.9,208.2 L2015.1,209.4 L2017.3,211.0 L2019.5,212.7 L2021.7,214.5 L2023.9,216.2 L2026.0,217.8 L2028.2,219.0 L2030.4,219.9 L2032.6,220.2 L2034.9,219.9 L2037.1,218.9 L2039.3,217.5 L2041.6,215.8 L2043.8,213.8 L2046.0,211.9 L2048.3,209.9 L2050.5,208.2 L2052.8,206.8 L2055.0,205.8 L2057.2,205.5 L2059.5,205.7 L2061.7,206.2 L2064.0,207.0 L2066.2,207.9 L2068.4,209.0 L2070.7,210.2 L2072.9,211.5 L2075.1,212.6 L2077.4,213.7 L2079.6,214.6 L2081.9,215.3 L2084.0,215.8 L2086.1,216.2 L2088.2,216.5 L2090.3,216.8 L2092.4,217.2 L2094.5,217.6 L2096.6,218.1 L2098.8,218.8 L2101.0,219.7 L2103.2,220.8 L2105.3,222.0 L2107.5,223.3 L2109.7,224.6 L2111.9,225.8 L2114.1,227.0 L2116.2,228.0 L2118.5,229.0 L2120.7,230.1 L2122.9,231.3 L2125.2,232.4 L2127.4,233.5 L2129.7,234.6 L2131.9,235.5 L2134.1,236.3 L2136.4,236.9 L2138.6,237.3 L2140.9,237.4 L2143.0,236.7 L2145.1,234.9 L2147.2,232.2 L2149.3,228.9 L2151.4,225.5 L2153.5,222.1 L2155.6,219.2 L2157.7,216.3 L2159.9,213.0 L2162.0,209.5 L2164.1,206.3 L2166.2,203.5 L2168.3,201.5 L2170.4,200.5 L2172.5,200.2 L2174.6,200.0 L2176.7,199.8 L2178.9,199.7 L2181.0,199.6 L2183.1,199.3 L2185.2,199.0 L2187.1,198.2 L2189.0,196.6 L2190.8,194.3 L2192.7,191.7 L2194.6,188.8 L2196.5,185.8 L2198.3,182.2 L2200.2,177.6 L2202.0,173.1 L2203.9,169.3 L2205.9,166.1 L2208.0,163.3 L2210.1,160.8 L2212.1,158.4 L2214.2,156.1 L2216.4,153.6 L2218.6,151.1 L2220.8,148.8 L2223.0,146.9 L2224.9,145.4 L2226.8,143.9 L2228.7,142.5 L2230.6,141.4 L2232.4,140.6 L2234.3,140.3 L2236.4,140.4 L2238.4,140.5 L2240.5,140.7 L2242.5,141.0 L2244.6,141.3 L2246.6,141.6 L2248.7,141.9 L2250.7,142.3 L2252.8,142.8 L2254.8,143.4 L2256.9,143.9 L2258.9,144.3 L2261.0,144.4 L2263.1,144.0 L2265.2,142.8 L2267.3,141.1 L2269.4,139.3 L2271.5,137.4 L2273.6,135.7 L2275.7,134.6 L2277.9,133.8 L2280.1,132.9 L2282.2,132.1 L2284.4,131.4 L2286.5,130.8 L2288.7,130.3 L2290.8,130.0 L2293.0,129.9 L2295.1,130.1 L2297.3,130.6 L2299.4,131.4 L2301.5,132.2 L2303.7,133.1 L2305.8,133.9 L2308.0,134.4 L2310.1,134.6 L2312.3,134.6 L2314.5,134.6 L2316.8,134.6 L2319.0,134.6 L2321.2,134.6 L2323.4,134.6 L2325.6,134.6 L2327.8,134.6 L2330.1,134.6 L2332.3,134.6 L2334.5,134.7 L2336.7,135.0 L2338.8,135.4 L2341.0,135.9 L2343.2,136.5 L2345.4,137.0 L2347.6,137.4 L2349.8,137.7 L2352.0,137.8 L2353.9,137.3 L2355.9,136.2 L2357.9,134.8 L2359.9,133.7 L2361.8,133.2 L2363.9,133.5 L2365.9,134.1 L2368.0,134.9 L2370.0,135.8 L2372.1,136.4 L2374.1,136.7 L2376.2,136.3 L2378.2,135.2 L2380.3,133.6 L2382.4,131.9 L2384.4,130.3 L2386.5,129.1 L2388.6,128.2 L2390.7,127.4 L2392.8,126.7 L2394.9,126.0 L2397.0,125.3 L2399.1,124.5 L2401.2,123.6 L2403.3,122.5 L2405.4,121.2 L2407.5,119.8 L2409.6,118.3 L2411.7,116.8 L2413.8,115.4 L2415.9,114.2 L2418.1,113.0 L2420.2,111.6 L2422.4,110.3 L2424.5,109.0 L2426.7,107.8 L2428.8,106.9 L2431.0,106.3 L2433.1,106.1 L2435.2,106.2 L2437.2,106.5 L2439.3,106.9 L2441.3,107.3 L2443.4,107.8 L2445.4,108.2 L2447.4,108.7 L2449.4,109.2 L2451.4,109.7 L2453.3,110.1 L2455.3,110.3 L2457.2,109.0 L2459.1,105.9 L2460.9,102.2 L2462.8,99.1 L2464.7,97.8 L2466.8,99.1 L2468.8,102.4 L2470.9,106.4 L2472.9,110.2 L2475.0,112.6 L2477.0,113.9 L2478.9,115.1 L2480.9,116.0 L2482.9,116.7 L2484.9,116.9 L2486.9,116.4 L2489.0,115.2 L2491.0,113.7 L2493.1,112.2 L2495.1,111.0 L2497.2,110.5 L2499.0,111.0 L2500.9,112.2 L2502.7,114.0 L2504.6,115.9 L2506.4,119.0 L2508.2,123.4 L2510.1,127.3 L2511.9,129.1 L2514.0,129.2 L2516.0,129.3 L2518.0,129.4 L2520.1,129.4 L2522.1,129.5 L2524.1,129.6 L2526.2,130.0 L2528.2,130.9 L2530.3,132.0 L2532.4,133.3 L2534.4,134.6 L2536.5,135.7 L2538.6,136.8 L2540.7,138.0 L2542.8,139.2 L2544.9,140.4 L2547.0,141.3 L2549.1,142.0 L2551.2,142.2 L2553.2,141.3 L2555.2,139.0 L2557.1,135.8 L2559.1,132.3 L2561.1,129.1 L2563.2,125.3 L2565.4,120.8 L2567.5,117.2 L2569.7,115.5 L2571.7,115.3 L2573.7,115.2 L2575.7,115.2 L2577.7,115.1 L2579.7,115.1 L2581.7,115.0 L2583.7,114.9 L2585.7,114.8 L2587.6,114.5 L2589.6,114.0 L2591.5,113.3 L2593.4,112.4 L2595.4,111.6 L2597.3,110.8 L2599.3,110.0" stroke="#7f00ff" stroke-width="15"/>
<use href="#c3" x="-2.0"/><use href="#c3" x="-1.0"/><use href="#c3" x="1.0"/><use href="#c3" x="2.0"/>
</g>
<path fill="#000" fill-rule="evenodd" d="M209,20 H2324 Q2331,20 2331,27 V2429 H202 V27 Q202,20 209,20 Z M224,39 V2409 H2309 V39 Z"/>
<path fill="#000" d="M202,2420 V2439 A11,8 0 0 0 224,2439 V2420 Z"/>
<path fill="#000" d="M553.2,2420 V2439 A11,8 0 0 0 575.2,2439 V2420 Z"/>
<path fill="#000" d="M904.3,2420 V2439 A11,8 0 0 0 926.3,2439 V2420 Z"/>
<path fill="#000" d="M1255.5,2420 V2439 A11,8 0 0 0 1277.5,2439 V2420 Z"/>
<path fill="#000" d="M1606.7,2420 V2439 A11,8 0 0 0 1628.7,2439 V2420 Z"/>
<path fill="#000" d="M1957.8,2420 V2439 A11,8 0 0 0 1979.8,2439 V2420 Z"/>
<path fill="#000" d="M2309,2420 V2439 A11,8 0 0 0 2331,2439 V2420 Z"/>
<g font-family="'Liberation Serif', 'Times New Roman', serif" font-weight="bold" fill="#000" style="font-kerning:none">
<text x="213.5" y="2515" font-size="88" letter-spacing="6" text-anchor="middle">1800</text>
<text x="564.7" y="2515" font-size="88" letter-spacing="6" text-anchor="middle">1600</text>
<text x="915.8" y="2515" font-size="88" letter-spacing="6" text-anchor="middle">1400</text>
<text x="1267.0" y="2515" font-size="88" letter-spacing="6" text-anchor="middle">1200</text>
<text x="1618.2" y="2515" font-size="88" letter-spacing="6" text-anchor="middle">1000</text>
<text x="1969.3" y="2515" font-size="88" letter-spacing="6" text-anchor="middle">800</text>
<text x="2320.5" y="2515" font-size="88" letter-spacing="6" text-anchor="middle">600</text>
<text x="445.5" y="411" font-size="80" letter-spacing="5">1621</text>
<text x="937" y="239" font-size="80" letter-spacing="5">1341</text>
<text x="1843.7" y="130.5" font-size="80" letter-spacing="5">834</text>
<text x="1959" y="1860.4" font-size="80" letter-spacing="5">830</text>
<text x="1214" y="2277.5" font-size="80" letter-spacing="5">1188</text>
<text x="648" y="2359" font-size="80" letter-spacing="5">1506</text>
<text x="1740" y="356.6" font-size="86" letter-spacing="6.9">PLC 120kGy</text>
<text x="1793" y="954.3" font-size="86" letter-spacing="7">PLC 80kGy</text>
<text x="1793" y="1506.5" font-size="86" letter-spacing="7">PLC 40kGy</text>
<text x="1799" y="2060.3" font-size="86" letter-spacing="6.2">PLC Unirr.</text>
<text font-size="104" xml:space="preserve"><tspan x="696.5" y="2650" letter-spacing="6.2">Wavenumber </tspan><tspan x="1406" y="2650" letter-spacing="0">(</tspan><tspan x="1447" y="2650" letter-spacing="3.2">cm</tspan><tspan x="1594" y="2603" letter-spacing="0">-</tspan><tspan x="1632.5" y="2603" letter-spacing="0">1</tspan><tspan x="1692" y="2650" letter-spacing="0">)</tspan></text>
<text transform="translate(111,1705.8) rotate(-90)" font-size="104" letter-spacing="0.25">Transmittance ( T %)</text>
</g>
<line x1="526.4" y1="440.4" x2="526.4" y2="2212.4" stroke="#ff0000" stroke-width="5.0" stroke-dasharray="3.2 13.46" stroke-linecap="round" shape-rendering="crispEdges"/>
<line x1="713.9" y1="505.6" x2="713.9" y2="2277" stroke="#ff0000" stroke-width="4.2" stroke-dasharray="2.8 13.86" stroke-linecap="round" shape-rendering="crispEdges"/>
<line x1="1017.8" y1="261.9" x2="1017.8" y2="2132" stroke="#800000" stroke-width="4.4" stroke-dasharray="3.6 13.06" stroke-linecap="round" shape-rendering="crispEdges"/>
<line x1="1286" y1="396.5" x2="1286" y2="2225.5" stroke="#000080" stroke-width="4.2" stroke-dasharray="2.0 5.1" stroke-linecap="round" shape-rendering="crispEdges"/>
<line x1="1907.5" y1="153.2" x2="1907.5" y2="1991" stroke="#ff00ff" stroke-width="5.2" stroke-dasharray="0.6 6.69" stroke-linecap="round" shape-rendering="crispEdges"/>
</svg>
</body></html>
